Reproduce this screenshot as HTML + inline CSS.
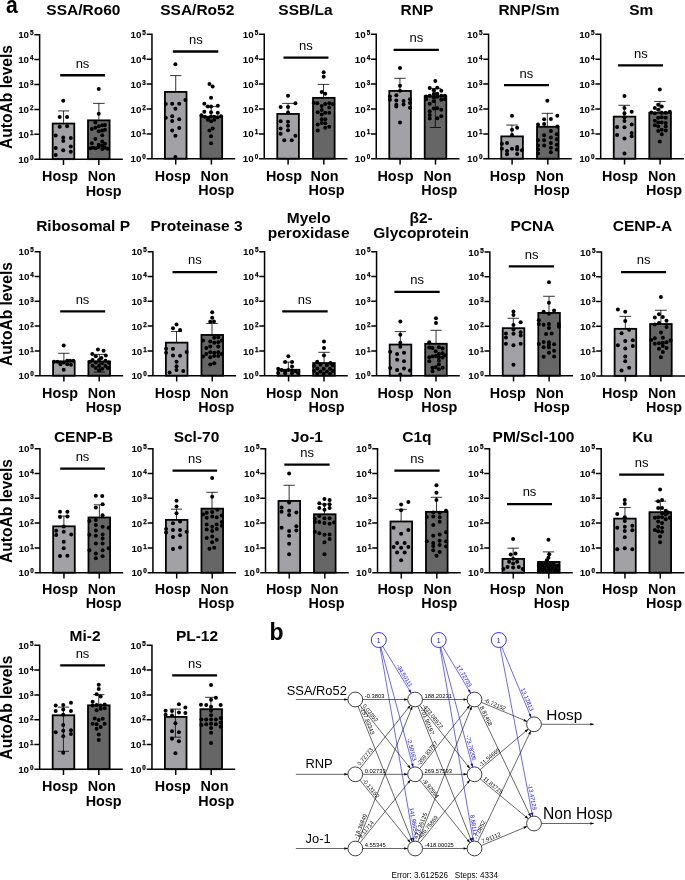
<!DOCTYPE html>
<html><head><meta charset="utf-8"><title>Figure</title>
<style>html,body{margin:0;padding:0;background:#fff}svg{display:block}</style>
</head><body>
<svg width="685" height="880" viewBox="0 0 685 880">
<rect width="685" height="880" fill="#fff"/>
<g font-family="Liberation Sans, Arial, sans-serif" fill="#000">
<text x="83.4" y="15.1" font-size="15.5" font-weight="bold" text-anchor="middle">SSA/Ro60</text>
<rect x="52.68" y="123.56" width="21.6" height="35.61" fill="#a2a2a6" stroke="#000" stroke-width="1.8"/>
<rect x="88.01" y="120.34" width="21.6" height="38.82" fill="#666666" stroke="#000" stroke-width="1.8"/>
<path d="M63.56 122.96V110.91M58.1 110.91H69.02" stroke="#000" stroke-width="0.8" fill="none"/>
<path d="M98.89 119.74V103.36M93.11 103.36H104.67" stroke="#000" stroke-width="0.8" fill="none"/>
<path d="M39.64 33.89V159.27H122.84M34.34 34.64H39.64M34.34 59.56H39.64M34.34 84.49H39.64M34.34 109.41H39.64M34.34 134.34H39.64M34.34 159.27H39.64M63.48 159.27V164.97M98.81 159.27V164.97" stroke="#000" stroke-width="1.5" fill="none"/>
<text x="29.04" y="38.24" font-size="9.8" font-weight="bold" text-anchor="end">10</text>
<text x="30.04" y="35.24" font-size="6.3" font-weight="bold" stroke="#000" stroke-width="0.25">5</text>
<text x="29.04" y="63.16" font-size="9.8" font-weight="bold" text-anchor="end">10</text>
<text x="30.04" y="60.16" font-size="6.3" font-weight="bold" stroke="#000" stroke-width="0.25">4</text>
<text x="29.04" y="88.09" font-size="9.8" font-weight="bold" text-anchor="end">10</text>
<text x="30.04" y="85.09" font-size="6.3" font-weight="bold" stroke="#000" stroke-width="0.25">3</text>
<text x="29.04" y="113.01" font-size="9.8" font-weight="bold" text-anchor="end">10</text>
<text x="30.04" y="110.01" font-size="6.3" font-weight="bold" stroke="#000" stroke-width="0.25">2</text>
<text x="29.04" y="137.94" font-size="9.8" font-weight="bold" text-anchor="end">10</text>
<text x="30.04" y="134.94" font-size="6.3" font-weight="bold" stroke="#000" stroke-width="0.25">1</text>
<text x="29.04" y="162.87" font-size="9.8" font-weight="bold" text-anchor="end">10</text>
<text x="30.04" y="159.87" font-size="6.3" font-weight="bold" stroke="#000" stroke-width="0.25">0</text>
<circle cx="63.24" cy="100.8" r="2.0"/><circle cx="59.71" cy="117.01" r="2.0"/><circle cx="67.09" cy="117.01" r="2.0"/><circle cx="59.71" cy="126.65" r="2.0"/><circle cx="67.09" cy="126.17" r="2.0"/><circle cx="55.69" cy="135.48" r="2.0"/><circle cx="63.24" cy="137.41" r="2.0"/><circle cx="70.79" cy="137.89" r="2.0"/><circle cx="63.24" cy="140.94" r="2.0"/><circle cx="55.69" cy="148.01" r="2.0"/><circle cx="70.79" cy="146.56" r="2.0"/><circle cx="63.24" cy="150.26" r="2.0"/><circle cx="70.79" cy="151.86" r="2.0"/><circle cx="55.69" cy="155.07" r="2.0"/><circle cx="98.73" cy="88.91" r="2.0"/><circle cx="98.73" cy="113.64" r="2.0"/><circle cx="95.36" cy="122.47" r="2.0"/><circle cx="91.82" cy="129.06" r="2.0"/><circle cx="95.36" cy="127.77" r="2.0"/><circle cx="98.73" cy="126.17" r="2.0"/><circle cx="102.26" cy="125.36" r="2.0"/><circle cx="104.99" cy="124.88" r="2.0"/><circle cx="98.73" cy="131.31" r="2.0"/><circle cx="102.26" cy="130.5" r="2.0"/><circle cx="104.99" cy="129.7" r="2.0"/><circle cx="102.26" cy="135.32" r="2.0"/><circle cx="95.36" cy="139.01" r="2.0"/><circle cx="102.26" cy="141.42" r="2.0"/><circle cx="91.82" cy="143.35" r="2.0"/><circle cx="104.99" cy="143.83" r="2.0"/><circle cx="98.73" cy="144.64" r="2.0"/><circle cx="102.26" cy="145.44" r="2.0"/><circle cx="90.22" cy="148.33" r="2.0"/><circle cx="93.11" cy="147.85" r="2.0"/><circle cx="95.84" cy="148.33" r="2.0"/><circle cx="98.73" cy="147.04" r="2.0"/><circle cx="102.26" cy="148.97" r="2.0"/><circle cx="104.99" cy="147.85" r="2.0"/><circle cx="107.88" cy="148.65" r="2.0"/>
<path d="M60.19 75.26H104.99" stroke="#000" stroke-width="2.3" fill="none"/>
<text x="82.51" y="68.04" font-size="13.0" text-anchor="middle">ns</text>
<text x="60.1" y="181.32" font-size="14.4" font-weight="bold" text-anchor="middle">Hosp</text>
<text x="101.75" y="181.32" font-size="14.4" font-weight="bold" text-anchor="middle">Non</text>
<text x="103.65" y="195.52" font-size="14.4" font-weight="bold" text-anchor="middle">Hosp</text>
<text x="197.3" y="15.1" font-size="15.5" font-weight="bold" text-anchor="middle">SSA/Ro52</text>
<rect x="164.92" y="91.92" width="21.6" height="66.76" fill="#a2a2a6" stroke="#000" stroke-width="1.8"/>
<rect x="200.57" y="116.81" width="21.6" height="41.87" fill="#666666" stroke="#000" stroke-width="1.8"/>
<path d="M175.72 91.32V75.58M170.1 75.58H181.34" stroke="#000" stroke-width="0.8" fill="none"/>
<path d="M211.21 116.21V106.58M205.43 106.58H216.99" stroke="#000" stroke-width="0.8" fill="none"/>
<path d="M151.96 33.56V158.78H235.16M146.66 34.31H151.96M146.66 59.21H151.96M146.66 84.1H151.96M146.66 109H151.96M146.66 133.89H151.96M146.66 158.78H151.96M175.72 158.78V164.48M211.37 158.78V164.48" stroke="#000" stroke-width="1.5" fill="none"/>
<text x="141.36" y="37.91" font-size="9.8" font-weight="bold" text-anchor="end">10</text>
<text x="142.36" y="34.91" font-size="6.3" font-weight="bold" stroke="#000" stroke-width="0.25">5</text>
<text x="141.36" y="62.81" font-size="9.8" font-weight="bold" text-anchor="end">10</text>
<text x="142.36" y="59.81" font-size="6.3" font-weight="bold" stroke="#000" stroke-width="0.25">4</text>
<text x="141.36" y="87.7" font-size="9.8" font-weight="bold" text-anchor="end">10</text>
<text x="142.36" y="84.7" font-size="6.3" font-weight="bold" stroke="#000" stroke-width="0.25">3</text>
<text x="141.36" y="112.6" font-size="9.8" font-weight="bold" text-anchor="end">10</text>
<text x="142.36" y="109.6" font-size="6.3" font-weight="bold" stroke="#000" stroke-width="0.25">2</text>
<text x="141.36" y="137.49" font-size="9.8" font-weight="bold" text-anchor="end">10</text>
<text x="142.36" y="134.49" font-size="6.3" font-weight="bold" stroke="#000" stroke-width="0.25">1</text>
<text x="141.36" y="162.38" font-size="9.8" font-weight="bold" text-anchor="end">10</text>
<text x="142.36" y="159.38" font-size="6.3" font-weight="bold" stroke="#000" stroke-width="0.25">0</text>
<circle cx="175.4" cy="64.18" r="2.0"/><circle cx="185.36" cy="99.99" r="2.0"/><circle cx="165.77" cy="104.01" r="2.0"/><circle cx="172.19" cy="103.69" r="2.0"/><circle cx="179.26" cy="103.69" r="2.0"/><circle cx="175.4" cy="108.82" r="2.0"/><circle cx="165.77" cy="117.66" r="2.0"/><circle cx="172.19" cy="116.21" r="2.0"/><circle cx="179.26" cy="119.26" r="2.0"/><circle cx="172.19" cy="121.03" r="2.0"/><circle cx="179.26" cy="128.09" r="2.0"/><circle cx="172.19" cy="130.5" r="2.0"/><circle cx="175.4" cy="135.8" r="2.0"/><circle cx="175.4" cy="157" r="2.0"/><circle cx="209.45" cy="84.09" r="2.0"/><circle cx="212.66" cy="86.5" r="2.0"/><circle cx="211.05" cy="97.74" r="2.0"/><circle cx="204.31" cy="103.69" r="2.0"/><circle cx="207.84" cy="106.58" r="2.0"/><circle cx="211.05" cy="106.58" r="2.0"/><circle cx="217.8" cy="105.77" r="2.0"/><circle cx="204.31" cy="111.72" r="2.0"/><circle cx="211.05" cy="112.2" r="2.0"/><circle cx="217.8" cy="112.84" r="2.0"/><circle cx="201.42" cy="115.25" r="2.0"/><circle cx="204.95" cy="116.85" r="2.0"/><circle cx="208.16" cy="117.82" r="2.0"/><circle cx="211.05" cy="116.53" r="2.0"/><circle cx="214.26" cy="116.85" r="2.0"/><circle cx="217.47" cy="117.34" r="2.0"/><circle cx="221.01" cy="116.21" r="2.0"/><circle cx="207.84" cy="119.74" r="2.0"/><circle cx="211.05" cy="121.35" r="2.0"/><circle cx="214.26" cy="119.74" r="2.0"/><circle cx="212.66" cy="128.58" r="2.0"/><circle cx="209.45" cy="130.5" r="2.0"/><circle cx="211.05" cy="136.28" r="2.0"/><circle cx="211.05" cy="143.35" r="2.0"/>
<path d="M172.83 51.5H218.28" stroke="#000" stroke-width="2.3" fill="none"/>
<text x="195.8" y="44.27" font-size="13.0" text-anchor="middle">ns</text>
<text x="172.75" y="180.83" font-size="14.4" font-weight="bold" text-anchor="middle">Hosp</text>
<text x="214.45" y="180.83" font-size="14.4" font-weight="bold" text-anchor="middle">Non</text>
<text x="216.35" y="195.03" font-size="14.4" font-weight="bold" text-anchor="middle">Hosp</text>
<text x="305.5" y="15.1" font-size="15.5" font-weight="bold" text-anchor="middle">SSB/La</text>
<rect x="277.29" y="113.92" width="21.6" height="44.76" fill="#a2a2a6" stroke="#000" stroke-width="1.8"/>
<rect x="313.02" y="97.86" width="21.6" height="60.82" fill="#666666" stroke="#000" stroke-width="1.8"/>
<path d="M288.09 113.32V103.36M282.23 103.36H293.95" stroke="#000" stroke-width="0.8" fill="none"/>
<path d="M323.5 97.26V84.42M317.72 84.42H329.28" stroke="#000" stroke-width="0.8" fill="none"/>
<path d="M264.24 33.56V158.78H347.44M258.94 34.31H264.24M258.94 59.21H264.24M258.94 84.1H264.24M258.94 109H264.24M258.94 133.89H264.24M258.94 158.78H264.24M288.09 158.78V164.48M323.82 158.78V164.48" stroke="#000" stroke-width="1.5" fill="none"/>
<text x="253.64" y="37.91" font-size="9.8" font-weight="bold" text-anchor="end">10</text>
<text x="254.64" y="34.91" font-size="6.3" font-weight="bold" stroke="#000" stroke-width="0.25">5</text>
<text x="253.64" y="62.81" font-size="9.8" font-weight="bold" text-anchor="end">10</text>
<text x="254.64" y="59.81" font-size="6.3" font-weight="bold" stroke="#000" stroke-width="0.25">4</text>
<text x="253.64" y="87.7" font-size="9.8" font-weight="bold" text-anchor="end">10</text>
<text x="254.64" y="84.7" font-size="6.3" font-weight="bold" stroke="#000" stroke-width="0.25">3</text>
<text x="253.64" y="112.6" font-size="9.8" font-weight="bold" text-anchor="end">10</text>
<text x="254.64" y="109.6" font-size="6.3" font-weight="bold" stroke="#000" stroke-width="0.25">2</text>
<text x="253.64" y="137.49" font-size="9.8" font-weight="bold" text-anchor="end">10</text>
<text x="254.64" y="134.49" font-size="6.3" font-weight="bold" stroke="#000" stroke-width="0.25">1</text>
<text x="253.64" y="162.38" font-size="9.8" font-weight="bold" text-anchor="end">10</text>
<text x="254.64" y="159.38" font-size="6.3" font-weight="bold" stroke="#000" stroke-width="0.25">0</text>
<circle cx="288.01" cy="95.66" r="2.0"/><circle cx="295.39" cy="103.2" r="2.0"/><circle cx="280.62" cy="106.9" r="2.0"/><circle cx="288.01" cy="106.9" r="2.0"/><circle cx="288.01" cy="112.52" r="2.0"/><circle cx="280.62" cy="121.35" r="2.0"/><circle cx="288.01" cy="121.67" r="2.0"/><circle cx="288.01" cy="125.69" r="2.0"/><circle cx="280.62" cy="128.58" r="2.0"/><circle cx="288.01" cy="130.18" r="2.0"/><circle cx="280.62" cy="133.72" r="2.0"/><circle cx="295.39" cy="135.8" r="2.0"/><circle cx="284.31" cy="140.3" r="2.0"/><circle cx="291.7" cy="140.3" r="2.0"/><circle cx="323.66" cy="72.37" r="2.0"/><circle cx="323.66" cy="76.87" r="2.0"/><circle cx="321.73" cy="92.12" r="2.0"/><circle cx="325.26" cy="93.73" r="2.0"/><circle cx="313.7" cy="102.88" r="2.0"/><circle cx="317.23" cy="103.2" r="2.0"/><circle cx="325.26" cy="104.01" r="2.0"/><circle cx="329.28" cy="103.2" r="2.0"/><circle cx="332.81" cy="104.01" r="2.0"/><circle cx="321.73" cy="106.09" r="2.0"/><circle cx="329.28" cy="107.38" r="2.0"/><circle cx="321.73" cy="110.11" r="2.0"/><circle cx="317.72" cy="112.2" r="2.0"/><circle cx="325.26" cy="112.84" r="2.0"/><circle cx="329.28" cy="112.84" r="2.0"/><circle cx="321.73" cy="114.45" r="2.0"/><circle cx="321.73" cy="119.26" r="2.0"/><circle cx="325.26" cy="119.26" r="2.0"/><circle cx="317.72" cy="124.56" r="2.0"/><circle cx="321.73" cy="122.96" r="2.0"/><circle cx="325.26" cy="123.28" r="2.0"/><circle cx="329.28" cy="126.65" r="2.0"/><circle cx="325.26" cy="127.77" r="2.0"/><circle cx="317.72" cy="130.5" r="2.0"/>
<path d="M283.51 57.6H328.47" stroke="#000" stroke-width="2.3" fill="none"/>
<text x="305.99" y="50.21" font-size="13.0" text-anchor="middle">ns</text>
<text x="283.95" y="180.83" font-size="14.4" font-weight="bold" text-anchor="middle">Hosp</text>
<text x="324.6" y="180.83" font-size="14.4" font-weight="bold" text-anchor="middle">Non</text>
<text x="326.5" y="195.03" font-size="14.4" font-weight="bold" text-anchor="middle">Hosp</text>
<text x="416.9" y="15.1" font-size="15.5" font-weight="bold" text-anchor="middle">RNP</text>
<rect x="389.29" y="90.96" width="21.6" height="67.73" fill="#a2a2a6" stroke="#000" stroke-width="1.8"/>
<rect x="424.7" y="96.26" width="21.6" height="62.43" fill="#666666" stroke="#000" stroke-width="1.8"/>
<path d="M399.93 90.36V78.31M394.23 78.31H405.63" stroke="#000" stroke-width="0.8" fill="none"/>
<path d="M435.34 95.66V88.43M429.72 88.43H440.96M435.34 95.66V127.45M429.72 127.45H440.96" stroke="#000" stroke-width="0.8" fill="none"/>
<path d="M376.24 33.56V158.78H459.44M370.94 34.31H376.24M370.94 59.21H376.24M370.94 84.1H376.24M370.94 109H376.24M370.94 133.89H376.24M370.94 158.78H376.24M400.09 158.78V164.48M435.5 158.78V164.48" stroke="#000" stroke-width="1.5" fill="none"/>
<text x="365.64" y="37.91" font-size="9.8" font-weight="bold" text-anchor="end">10</text>
<text x="366.64" y="34.91" font-size="6.3" font-weight="bold" stroke="#000" stroke-width="0.25">5</text>
<text x="365.64" y="62.81" font-size="9.8" font-weight="bold" text-anchor="end">10</text>
<text x="366.64" y="59.81" font-size="6.3" font-weight="bold" stroke="#000" stroke-width="0.25">4</text>
<text x="365.64" y="87.7" font-size="9.8" font-weight="bold" text-anchor="end">10</text>
<text x="366.64" y="84.7" font-size="6.3" font-weight="bold" stroke="#000" stroke-width="0.25">3</text>
<text x="365.64" y="112.6" font-size="9.8" font-weight="bold" text-anchor="end">10</text>
<text x="366.64" y="109.6" font-size="6.3" font-weight="bold" stroke="#000" stroke-width="0.25">2</text>
<text x="365.64" y="137.49" font-size="9.8" font-weight="bold" text-anchor="end">10</text>
<text x="366.64" y="134.49" font-size="6.3" font-weight="bold" stroke="#000" stroke-width="0.25">1</text>
<text x="365.64" y="162.38" font-size="9.8" font-weight="bold" text-anchor="end">10</text>
<text x="366.64" y="159.38" font-size="6.3" font-weight="bold" stroke="#000" stroke-width="0.25">0</text>
<circle cx="400.01" cy="67.88" r="2.0"/><circle cx="400.01" cy="85.7" r="2.0"/><circle cx="400.01" cy="90.84" r="2.0"/><circle cx="396.31" cy="95.34" r="2.0"/><circle cx="389.89" cy="96.46" r="2.0"/><circle cx="389.89" cy="99.67" r="2.0"/><circle cx="396.31" cy="100.47" r="2.0"/><circle cx="403.54" cy="100.96" r="2.0"/><circle cx="409.96" cy="99.19" r="2.0"/><circle cx="409.96" cy="102.88" r="2.0"/><circle cx="396.31" cy="104.81" r="2.0"/><circle cx="403.54" cy="104.49" r="2.0"/><circle cx="396.31" cy="106.42" r="2.0"/><circle cx="409.96" cy="107.7" r="2.0"/><circle cx="400.01" cy="122.47" r="2.0"/><circle cx="435.34" cy="81.04" r="2.0"/><circle cx="429.72" cy="88.11" r="2.0"/><circle cx="437.26" cy="87.63" r="2.0"/><circle cx="433.73" cy="90.36" r="2.0"/><circle cx="441.28" cy="90.84" r="2.0"/><circle cx="433.73" cy="94.05" r="2.0"/><circle cx="437.26" cy="93.73" r="2.0"/><circle cx="426.02" cy="96.46" r="2.0"/><circle cx="429.72" cy="95.66" r="2.0"/><circle cx="433.73" cy="97.26" r="2.0"/><circle cx="437.26" cy="96.78" r="2.0"/><circle cx="441.28" cy="95.66" r="2.0"/><circle cx="444.81" cy="95.66" r="2.0"/><circle cx="426.02" cy="99.19" r="2.0"/><circle cx="444.81" cy="99.19" r="2.0"/><circle cx="441.28" cy="99.67" r="2.0"/><circle cx="433.73" cy="101.28" r="2.0"/><circle cx="429.72" cy="103.69" r="2.0"/><circle cx="433.73" cy="108.5" r="2.0"/><circle cx="437.26" cy="108.18" r="2.0"/><circle cx="441.28" cy="109.63" r="2.0"/><circle cx="429.72" cy="111.23" r="2.0"/><circle cx="429.72" cy="114.93" r="2.0"/><circle cx="441.28" cy="116.21" r="2.0"/><circle cx="437.26" cy="118.14" r="2.0"/><circle cx="429.72" cy="118.62" r="2.0"/>
<path d="M393.58 49.89H438.87" stroke="#000" stroke-width="2.3" fill="none"/>
<text x="416.39" y="42.18" font-size="13.0" text-anchor="middle">ns</text>
<text x="395.45" y="180.83" font-size="14.4" font-weight="bold" text-anchor="middle">Hosp</text>
<text x="437.45" y="180.83" font-size="14.4" font-weight="bold" text-anchor="middle">Non</text>
<text x="439.35" y="195.03" font-size="14.4" font-weight="bold" text-anchor="middle">Hosp</text>
<text x="529" y="15.1" font-size="15.5" font-weight="bold" text-anchor="middle">RNP/Sm</text>
<rect x="501.29" y="136.4" width="21.6" height="22.28" fill="#a2a2a6" stroke="#000" stroke-width="1.8"/>
<rect x="537.02" y="126.77" width="21.6" height="31.92" fill="#666666" stroke="#000" stroke-width="1.8"/>
<path d="M511.93 135.8V125.04M506.23 125.04H517.63" stroke="#000" stroke-width="0.8" fill="none"/>
<path d="M547.34 126.17V113.32M541.72 113.32H552.96" stroke="#000" stroke-width="0.8" fill="none"/>
<path d="M488.56 33.56V158.78H571.76M483.26 34.31H488.56M483.26 59.21H488.56M483.26 84.1H488.56M483.26 109H488.56M483.26 133.89H488.56M483.26 158.78H488.56M512.09 158.78V164.48M547.82 158.78V164.48" stroke="#000" stroke-width="1.5" fill="none"/>
<text x="477.96" y="37.91" font-size="9.8" font-weight="bold" text-anchor="end">10</text>
<text x="478.96" y="34.91" font-size="6.3" font-weight="bold" stroke="#000" stroke-width="0.25">5</text>
<text x="477.96" y="62.81" font-size="9.8" font-weight="bold" text-anchor="end">10</text>
<text x="478.96" y="59.81" font-size="6.3" font-weight="bold" stroke="#000" stroke-width="0.25">4</text>
<text x="477.96" y="87.7" font-size="9.8" font-weight="bold" text-anchor="end">10</text>
<text x="478.96" y="84.7" font-size="6.3" font-weight="bold" stroke="#000" stroke-width="0.25">3</text>
<text x="477.96" y="112.6" font-size="9.8" font-weight="bold" text-anchor="end">10</text>
<text x="478.96" y="109.6" font-size="6.3" font-weight="bold" stroke="#000" stroke-width="0.25">2</text>
<text x="477.96" y="137.49" font-size="9.8" font-weight="bold" text-anchor="end">10</text>
<text x="478.96" y="134.49" font-size="6.3" font-weight="bold" stroke="#000" stroke-width="0.25">1</text>
<text x="477.96" y="162.38" font-size="9.8" font-weight="bold" text-anchor="end">10</text>
<text x="478.96" y="159.38" font-size="6.3" font-weight="bold" stroke="#000" stroke-width="0.25">0</text>
<circle cx="512.01" cy="115.73" r="2.0"/><circle cx="512.01" cy="129.7" r="2.0"/><circle cx="517.15" cy="127.77" r="2.0"/><circle cx="512.01" cy="135" r="2.0"/><circle cx="501.89" cy="143.83" r="2.0"/><circle cx="507.03" cy="143.03" r="2.0"/><circle cx="501.89" cy="148.65" r="2.0"/><circle cx="512.01" cy="148.65" r="2.0"/><circle cx="517.15" cy="147.04" r="2.0"/><circle cx="507.03" cy="151.06" r="2.0"/><circle cx="521.96" cy="150.26" r="2.0"/><circle cx="517.15" cy="149.45" r="2.0"/><circle cx="507.03" cy="154.27" r="2.0"/><circle cx="517.15" cy="153.95" r="2.0"/><circle cx="547.34" cy="100.8" r="2.0"/><circle cx="557.29" cy="115.73" r="2.0"/><circle cx="544.12" cy="119.26" r="2.0"/><circle cx="550.87" cy="118.94" r="2.0"/><circle cx="538.02" cy="124.56" r="2.0"/><circle cx="544.12" cy="124.08" r="2.0"/><circle cx="557.29" cy="126.49" r="2.0"/><circle cx="550.87" cy="130.99" r="2.0"/><circle cx="544.12" cy="135.32" r="2.0"/><circle cx="556.81" cy="134.2" r="2.0"/><circle cx="550.87" cy="137.41" r="2.0"/><circle cx="538.02" cy="140.14" r="2.0"/><circle cx="544.12" cy="140.14" r="2.0"/><circle cx="556.81" cy="139.34" r="2.0"/><circle cx="550.87" cy="143.03" r="2.0"/><circle cx="538.02" cy="145.44" r="2.0"/><circle cx="544.12" cy="145.44" r="2.0"/><circle cx="556.81" cy="144.64" r="2.0"/><circle cx="550.87" cy="147.85" r="2.0"/><circle cx="538.02" cy="149.45" r="2.0"/><circle cx="556.81" cy="149.45" r="2.0"/><circle cx="550.87" cy="152.34" r="2.0"/><circle cx="538.02" cy="153.47" r="2.0"/>
<path d="M503.98 85.22H548.94" stroke="#000" stroke-width="2.3" fill="none"/>
<text x="526.46" y="77.51" font-size="13.0" text-anchor="middle">ns</text>
<text x="507.75" y="180.83" font-size="14.4" font-weight="bold" text-anchor="middle">Hosp</text>
<text x="549.8" y="180.83" font-size="14.4" font-weight="bold" text-anchor="middle">Non</text>
<text x="551.7" y="195.03" font-size="14.4" font-weight="bold" text-anchor="middle">Hosp</text>
<text x="641.3" y="15.1" font-size="15.5" font-weight="bold" text-anchor="middle">Sm</text>
<rect x="613.74" y="116.65" width="21.6" height="42.03" fill="#a2a2a6" stroke="#000" stroke-width="1.8"/>
<rect x="649.31" y="112.8" width="21.6" height="45.89" fill="#666666" stroke="#000" stroke-width="1.8"/>
<path d="M624.22 116.05V105.29M618.36 105.29H630.08" stroke="#000" stroke-width="0.8" fill="none"/>
<path d="M659.95 112.2V101.44M654.17 101.44H665.73" stroke="#000" stroke-width="0.8" fill="none"/>
<path d="M600.69 33.56V158.78H683.89M595.39 34.31H600.69M595.39 59.21H600.69M595.39 84.1H600.69M595.39 109H600.69M595.39 133.89H600.69M595.39 158.78H600.69M624.54 158.78V164.48M660.11 158.78V164.48" stroke="#000" stroke-width="1.5" fill="none"/>
<text x="590.09" y="37.91" font-size="9.8" font-weight="bold" text-anchor="end">10</text>
<text x="591.09" y="34.91" font-size="6.3" font-weight="bold" stroke="#000" stroke-width="0.25">5</text>
<text x="590.09" y="62.81" font-size="9.8" font-weight="bold" text-anchor="end">10</text>
<text x="591.09" y="59.81" font-size="6.3" font-weight="bold" stroke="#000" stroke-width="0.25">4</text>
<text x="590.09" y="87.7" font-size="9.8" font-weight="bold" text-anchor="end">10</text>
<text x="591.09" y="84.7" font-size="6.3" font-weight="bold" stroke="#000" stroke-width="0.25">3</text>
<text x="590.09" y="112.6" font-size="9.8" font-weight="bold" text-anchor="end">10</text>
<text x="591.09" y="109.6" font-size="6.3" font-weight="bold" stroke="#000" stroke-width="0.25">2</text>
<text x="590.09" y="137.49" font-size="9.8" font-weight="bold" text-anchor="end">10</text>
<text x="591.09" y="134.49" font-size="6.3" font-weight="bold" stroke="#000" stroke-width="0.25">1</text>
<text x="590.09" y="162.38" font-size="9.8" font-weight="bold" text-anchor="end">10</text>
<text x="591.09" y="159.38" font-size="6.3" font-weight="bold" stroke="#000" stroke-width="0.25">0</text>
<circle cx="624.46" cy="95.98" r="2.0"/><circle cx="624.46" cy="108.02" r="2.0"/><circle cx="631.69" cy="111.72" r="2.0"/><circle cx="624.46" cy="113.32" r="2.0"/><circle cx="624.46" cy="117.34" r="2.0"/><circle cx="624.46" cy="121.03" r="2.0"/><circle cx="631.69" cy="124.56" r="2.0"/><circle cx="617.07" cy="126.97" r="2.0"/><circle cx="624.46" cy="127.29" r="2.0"/><circle cx="631.69" cy="132.91" r="2.0"/><circle cx="617.07" cy="135" r="2.0"/><circle cx="631.69" cy="136.28" r="2.0"/><circle cx="624.46" cy="138.53" r="2.0"/><circle cx="624.46" cy="153.47" r="2.0"/><circle cx="659.79" cy="89.55" r="2.0"/><circle cx="658.18" cy="104.81" r="2.0"/><circle cx="661.72" cy="106.42" r="2.0"/><circle cx="654.81" cy="108.02" r="2.0"/><circle cx="658.18" cy="109.79" r="2.0"/><circle cx="669.74" cy="111.72" r="2.0"/><circle cx="651.28" cy="112.52" r="2.0"/><circle cx="654.81" cy="113.32" r="2.0"/><circle cx="661.72" cy="112.84" r="2.0"/><circle cx="665.73" cy="112.84" r="2.0"/><circle cx="658.18" cy="117.66" r="2.0"/><circle cx="661.72" cy="117.34" r="2.0"/><circle cx="665.73" cy="117.66" r="2.0"/><circle cx="654.81" cy="120.87" r="2.0"/><circle cx="658.18" cy="122.47" r="2.0"/><circle cx="661.72" cy="122.47" r="2.0"/><circle cx="665.73" cy="122.96" r="2.0"/><circle cx="654.81" cy="125.36" r="2.0"/><circle cx="658.18" cy="126.49" r="2.0"/><circle cx="665.73" cy="126.49" r="2.0"/><circle cx="661.72" cy="129.86" r="2.0"/><circle cx="658.18" cy="130.99" r="2.0"/><circle cx="665.73" cy="130.5" r="2.0"/><circle cx="661.72" cy="134.2" r="2.0"/><circle cx="659.79" cy="141.42" r="2.0"/>
<path d="M618.04 65.47H663" stroke="#000" stroke-width="2.3" fill="none"/>
<text x="640.84" y="57.92" font-size="13.0" text-anchor="middle">ns</text>
<text x="620.1" y="180.83" font-size="14.4" font-weight="bold" text-anchor="middle">Hosp</text>
<text x="662.1" y="180.83" font-size="14.4" font-weight="bold" text-anchor="middle">Non</text>
<text x="664" y="195.03" font-size="14.4" font-weight="bold" text-anchor="middle">Hosp</text>
<text x="83.1" y="231" font-size="15.5" font-weight="bold" text-anchor="middle">Ribosomal P</text>
<rect x="53.08" y="361.43" width="21.6" height="14.22" fill="#a2a2a6" stroke="#000" stroke-width="1.8"/>
<rect x="88.41" y="361.43" width="21.6" height="14.22" fill="#666666" stroke="#000" stroke-width="1.8"/>
<path d="M63.88 360.83V353.28M58.1 353.28H69.66" stroke="#000" stroke-width="0.8" fill="none"/>
<path d="M99.37 360.83V354.41M93.75 354.41H104.99M99.37 360.83V372.07M93.75 372.07H104.99" stroke="#000" stroke-width="0.8" fill="none"/>
<path d="M39.96 250.89V375.76H123.16M34.66 251.64H39.96M34.66 276.46H39.96M34.66 301.28H39.96M34.66 326.11H39.96M34.66 350.93H39.96M34.66 375.76H39.96M63.88 375.76V381.46M99.21 375.76V381.46" stroke="#000" stroke-width="1.5" fill="none"/>
<text x="29.36" y="255.24" font-size="9.8" font-weight="bold" text-anchor="end">10</text>
<text x="30.36" y="252.24" font-size="6.3" font-weight="bold" stroke="#000" stroke-width="0.25">5</text>
<text x="29.36" y="280.06" font-size="9.8" font-weight="bold" text-anchor="end">10</text>
<text x="30.36" y="277.06" font-size="6.3" font-weight="bold" stroke="#000" stroke-width="0.25">4</text>
<text x="29.36" y="304.88" font-size="9.8" font-weight="bold" text-anchor="end">10</text>
<text x="30.36" y="301.88" font-size="6.3" font-weight="bold" stroke="#000" stroke-width="0.25">3</text>
<text x="29.36" y="329.71" font-size="9.8" font-weight="bold" text-anchor="end">10</text>
<text x="30.36" y="326.71" font-size="6.3" font-weight="bold" stroke="#000" stroke-width="0.25">2</text>
<text x="29.36" y="354.53" font-size="9.8" font-weight="bold" text-anchor="end">10</text>
<text x="30.36" y="351.53" font-size="6.3" font-weight="bold" stroke="#000" stroke-width="0.25">1</text>
<text x="29.36" y="379.36" font-size="9.8" font-weight="bold" text-anchor="end">10</text>
<text x="30.36" y="376.36" font-size="6.3" font-weight="bold" stroke="#000" stroke-width="0.25">0</text>
<circle cx="63.72" cy="345.58" r="2.0"/><circle cx="54.09" cy="361.64" r="2.0"/><circle cx="57.3" cy="361.64" r="2.0"/><circle cx="60.51" cy="362.44" r="2.0"/><circle cx="63.72" cy="362.44" r="2.0"/><circle cx="67.26" cy="360.83" r="2.0"/><circle cx="70.15" cy="360.83" r="2.0"/><circle cx="73.36" cy="360.83" r="2.0"/><circle cx="60.51" cy="364.36" r="2.0"/><circle cx="67.26" cy="364.36" r="2.0"/><circle cx="70.95" cy="364.85" r="2.0"/><circle cx="63.72" cy="369.66" r="2.0"/><circle cx="97.93" cy="349.59" r="2.0"/><circle cx="103.55" cy="350.72" r="2.0"/><circle cx="92.31" cy="353.93" r="2.0"/><circle cx="105.8" cy="355.53" r="2.0"/><circle cx="95.84" cy="356.34" r="2.0"/><circle cx="101.46" cy="357.94" r="2.0"/><circle cx="92.63" cy="360.03" r="2.0"/><circle cx="99.05" cy="360.03" r="2.0"/><circle cx="105.47" cy="360.83" r="2.0"/><circle cx="89.74" cy="361.64" r="2.0"/><circle cx="95.84" cy="362.44" r="2.0"/><circle cx="102.26" cy="363.24" r="2.0"/><circle cx="108.69" cy="362.44" r="2.0"/><circle cx="92.63" cy="365.65" r="2.0"/><circle cx="99.05" cy="365.65" r="2.0"/><circle cx="105.47" cy="365.97" r="2.0"/><circle cx="95.84" cy="368.06" r="2.0"/><circle cx="102.26" cy="368.86" r="2.0"/><circle cx="107.88" cy="368.06" r="2.0"/><circle cx="99.05" cy="370.47" r="2.0"/>
<path d="M60.19 311.37H105.15" stroke="#000" stroke-width="2.3" fill="none"/>
<text x="82.51" y="303.82" font-size="13.0" text-anchor="middle">ns</text>
<text x="60.1" y="397.61" font-size="14.4" font-weight="bold" text-anchor="middle">Hosp</text>
<text x="101.75" y="397.61" font-size="14.4" font-weight="bold" text-anchor="middle">Non</text>
<text x="103.65" y="411.81" font-size="14.4" font-weight="bold" text-anchor="middle">Hosp</text>
<text x="196.5" y="231" font-size="15.5" font-weight="bold" text-anchor="middle">Proteinase 3</text>
<rect x="165.89" y="342.64" width="21.6" height="33.01" fill="#a2a2a6" stroke="#000" stroke-width="1.8"/>
<rect x="201.46" y="334.94" width="21.6" height="40.72" fill="#666666" stroke="#000" stroke-width="1.8"/>
<path d="M176.53 342.04V331.45M170.91 331.45H182.15" stroke="#000" stroke-width="0.8" fill="none"/>
<path d="M212.01 334.34V323.42M206.23 323.42H217.8" stroke="#000" stroke-width="0.8" fill="none"/>
<path d="M152.92 250.89V375.76H236.12M147.62 251.64H152.92M147.62 276.46H152.92M147.62 301.28H152.92M147.62 326.11H152.92M147.62 350.93H152.92M147.62 375.76H152.92M176.69 375.76V381.46M212.26 375.76V381.46" stroke="#000" stroke-width="1.5" fill="none"/>
<text x="142.32" y="255.24" font-size="9.8" font-weight="bold" text-anchor="end">10</text>
<text x="143.32" y="252.24" font-size="6.3" font-weight="bold" stroke="#000" stroke-width="0.25">5</text>
<text x="142.32" y="280.06" font-size="9.8" font-weight="bold" text-anchor="end">10</text>
<text x="143.32" y="277.06" font-size="6.3" font-weight="bold" stroke="#000" stroke-width="0.25">4</text>
<text x="142.32" y="304.88" font-size="9.8" font-weight="bold" text-anchor="end">10</text>
<text x="143.32" y="301.88" font-size="6.3" font-weight="bold" stroke="#000" stroke-width="0.25">3</text>
<text x="142.32" y="329.71" font-size="9.8" font-weight="bold" text-anchor="end">10</text>
<text x="143.32" y="326.71" font-size="6.3" font-weight="bold" stroke="#000" stroke-width="0.25">2</text>
<text x="142.32" y="354.53" font-size="9.8" font-weight="bold" text-anchor="end">10</text>
<text x="143.32" y="351.53" font-size="6.3" font-weight="bold" stroke="#000" stroke-width="0.25">1</text>
<text x="142.32" y="379.36" font-size="9.8" font-weight="bold" text-anchor="end">10</text>
<text x="143.32" y="376.36" font-size="6.3" font-weight="bold" stroke="#000" stroke-width="0.25">0</text>
<circle cx="176.53" cy="324.38" r="2.0"/><circle cx="172.99" cy="328.23" r="2.0"/><circle cx="180.06" cy="330" r="2.0"/><circle cx="166.09" cy="348.79" r="2.0"/><circle cx="172.99" cy="348.79" r="2.0"/><circle cx="166.09" cy="352.8" r="2.0"/><circle cx="186.64" cy="352" r="2.0"/><circle cx="172.99" cy="355.53" r="2.0"/><circle cx="180.06" cy="355.69" r="2.0"/><circle cx="176.53" cy="361.64" r="2.0"/><circle cx="176.53" cy="366.13" r="2.0"/><circle cx="176.53" cy="369.99" r="2.0"/><circle cx="169.62" cy="372.55" r="2.0"/><circle cx="183.27" cy="370.95" r="2.0"/><circle cx="212.18" cy="312.34" r="2.0"/><circle cx="212.18" cy="317.8" r="2.0"/><circle cx="210.25" cy="321.81" r="2.0"/><circle cx="213.94" cy="321.49" r="2.0"/><circle cx="214.26" cy="337.87" r="2.0"/><circle cx="218.28" cy="337.23" r="2.0"/><circle cx="203.02" cy="340.44" r="2.0"/><circle cx="210.25" cy="341.56" r="2.0"/><circle cx="214.26" cy="342.69" r="2.0"/><circle cx="218.28" cy="342.36" r="2.0"/><circle cx="221.81" cy="340.44" r="2.0"/><circle cx="210.25" cy="346.38" r="2.0"/><circle cx="218.28" cy="346.38" r="2.0"/><circle cx="206.23" cy="347.99" r="2.0"/><circle cx="214.26" cy="352.8" r="2.0"/><circle cx="206.23" cy="353.93" r="2.0"/><circle cx="210.25" cy="352.32" r="2.0"/><circle cx="218.28" cy="352.32" r="2.0"/><circle cx="221.81" cy="353.93" r="2.0"/><circle cx="203.02" cy="356.5" r="2.0"/><circle cx="214.26" cy="356.01" r="2.0"/><circle cx="210.25" cy="357.14" r="2.0"/><circle cx="218.28" cy="356.01" r="2.0"/><circle cx="210.25" cy="364.53" r="2.0"/><circle cx="214.26" cy="363.24" r="2.0"/>
<path d="M172.51 272.03H217.15" stroke="#000" stroke-width="2.3" fill="none"/>
<text x="194.99" y="264.48" font-size="13.0" text-anchor="middle">ns</text>
<text x="172.75" y="397.61" font-size="14.4" font-weight="bold" text-anchor="middle">Hosp</text>
<text x="214.45" y="397.61" font-size="14.4" font-weight="bold" text-anchor="middle">Non</text>
<text x="216.35" y="411.81" font-size="14.4" font-weight="bold" text-anchor="middle">Hosp</text>
<text x="308.7" y="223.3" font-size="15.5" font-weight="bold" text-anchor="middle">Myelo</text>
<text x="308.7" y="238.3" font-size="15.5" font-weight="bold" text-anchor="middle">peroxidase</text>
<rect x="277.77" y="369.78" width="21.6" height="5.87" fill="#a2a2a6" stroke="#000" stroke-width="1.8"/>
<rect x="313.18" y="363.04" width="21.6" height="12.62" fill="#666666" stroke="#000" stroke-width="1.8"/>
<path d="M288.33 369.18V362.12M282.71 362.12H293.95" stroke="#000" stroke-width="0.8" fill="none"/>
<path d="M324.06 362.44V352.32M318.36 352.32H329.76" stroke="#000" stroke-width="0.8" fill="none"/>
<path d="M264.56 250.89V375.76H347.76M259.26 251.64H264.56M259.26 276.46H264.56M259.26 301.28H264.56M259.26 326.11H264.56M259.26 350.93H264.56M259.26 375.76H264.56M288.57 375.76V381.46M323.98 375.76V381.46" stroke="#000" stroke-width="1.5" fill="none"/>
<text x="253.96" y="255.24" font-size="9.8" font-weight="bold" text-anchor="end">10</text>
<text x="254.96" y="252.24" font-size="6.3" font-weight="bold" stroke="#000" stroke-width="0.25">5</text>
<text x="253.96" y="280.06" font-size="9.8" font-weight="bold" text-anchor="end">10</text>
<text x="254.96" y="277.06" font-size="6.3" font-weight="bold" stroke="#000" stroke-width="0.25">4</text>
<text x="253.96" y="304.88" font-size="9.8" font-weight="bold" text-anchor="end">10</text>
<text x="254.96" y="301.88" font-size="6.3" font-weight="bold" stroke="#000" stroke-width="0.25">3</text>
<text x="253.96" y="329.71" font-size="9.8" font-weight="bold" text-anchor="end">10</text>
<text x="254.96" y="326.71" font-size="6.3" font-weight="bold" stroke="#000" stroke-width="0.25">2</text>
<text x="253.96" y="354.53" font-size="9.8" font-weight="bold" text-anchor="end">10</text>
<text x="254.96" y="351.53" font-size="6.3" font-weight="bold" stroke="#000" stroke-width="0.25">1</text>
<text x="253.96" y="379.36" font-size="9.8" font-weight="bold" text-anchor="end">10</text>
<text x="254.96" y="376.36" font-size="6.3" font-weight="bold" stroke="#000" stroke-width="0.25">0</text>
<circle cx="288.33" cy="356.34" r="2.0"/><circle cx="285.12" cy="361.96" r="2.0"/><circle cx="292.02" cy="361.96" r="2.0"/><circle cx="292.02" cy="366.45" r="2.0"/><circle cx="278.21" cy="368.86" r="2.0"/><circle cx="281.58" cy="369.99" r="2.0"/><circle cx="285.12" cy="371.27" r="2.0"/><circle cx="288.33" cy="369.99" r="2.0"/><circle cx="292.02" cy="370.47" r="2.0"/><circle cx="295.55" cy="371.27" r="2.0"/><circle cx="278.21" cy="372.88" r="2.0"/><circle cx="285.12" cy="373.36" r="2.0"/><circle cx="292.02" cy="373.36" r="2.0"/><circle cx="297.96" cy="372.88" r="2.0"/><circle cx="323.98" cy="341.56" r="2.0"/><circle cx="323.98" cy="347.99" r="2.0"/><circle cx="323.98" cy="355.53" r="2.0"/><circle cx="317.23" cy="361.64" r="2.0"/><circle cx="330.56" cy="362.92" r="2.0"/><circle cx="314.02" cy="365.65" r="2.0"/><circle cx="320.45" cy="364.85" r="2.0"/><circle cx="326.87" cy="365.33" r="2.0"/><circle cx="332.81" cy="365.33" r="2.0"/><circle cx="317.23" cy="368.38" r="2.0"/><circle cx="323.66" cy="368.86" r="2.0"/><circle cx="330.08" cy="368.86" r="2.0"/><circle cx="314.02" cy="370.95" r="2.0"/><circle cx="320.45" cy="371.59" r="2.0"/><circle cx="326.87" cy="371.59" r="2.0"/><circle cx="332.81" cy="370.95" r="2.0"/><circle cx="317.23" cy="373.68" r="2.0"/><circle cx="323.66" cy="373.68" r="2.0"/><circle cx="330.08" cy="373.68" r="2.0"/>
<path d="M282.23 311.37H327.67" stroke="#000" stroke-width="2.3" fill="none"/>
<text x="304.71" y="303.82" font-size="13.0" text-anchor="middle">ns</text>
<text x="283.95" y="397.61" font-size="14.4" font-weight="bold" text-anchor="middle">Hosp</text>
<text x="324.6" y="397.61" font-size="14.4" font-weight="bold" text-anchor="middle">Non</text>
<text x="326.5" y="411.81" font-size="14.4" font-weight="bold" text-anchor="middle">Hosp</text>
<text x="421.1" y="223.3" font-size="15.5" font-weight="bold" text-anchor="middle">β2-</text>
<text x="421.1" y="238.3" font-size="15.5" font-weight="bold" text-anchor="middle">Glycoprotein</text>
<rect x="389.69" y="344.57" width="21.6" height="31.09" fill="#a2a2a6" stroke="#000" stroke-width="1.8"/>
<rect x="425.18" y="343.77" width="21.6" height="31.89" fill="#666666" stroke="#000" stroke-width="1.8"/>
<path d="M400.33 343.97V331.61M394.71 331.61H405.95" stroke="#000" stroke-width="0.8" fill="none"/>
<path d="M436.06 343.17V330.32M430.36 330.32H441.76" stroke="#000" stroke-width="0.8" fill="none"/>
<path d="M376.56 250.89V375.76H459.76M371.26 251.64H376.56M371.26 276.46H376.56M371.26 301.28H376.56M371.26 326.11H376.56M371.26 350.93H376.56M371.26 375.76H376.56M400.49 375.76V381.46M435.98 375.76V381.46" stroke="#000" stroke-width="1.5" fill="none"/>
<text x="365.96" y="255.24" font-size="9.8" font-weight="bold" text-anchor="end">10</text>
<text x="366.96" y="252.24" font-size="6.3" font-weight="bold" stroke="#000" stroke-width="0.25">5</text>
<text x="365.96" y="280.06" font-size="9.8" font-weight="bold" text-anchor="end">10</text>
<text x="366.96" y="277.06" font-size="6.3" font-weight="bold" stroke="#000" stroke-width="0.25">4</text>
<text x="365.96" y="304.88" font-size="9.8" font-weight="bold" text-anchor="end">10</text>
<text x="366.96" y="301.88" font-size="6.3" font-weight="bold" stroke="#000" stroke-width="0.25">3</text>
<text x="365.96" y="329.71" font-size="9.8" font-weight="bold" text-anchor="end">10</text>
<text x="366.96" y="326.71" font-size="6.3" font-weight="bold" stroke="#000" stroke-width="0.25">2</text>
<text x="365.96" y="354.53" font-size="9.8" font-weight="bold" text-anchor="end">10</text>
<text x="366.96" y="351.53" font-size="6.3" font-weight="bold" stroke="#000" stroke-width="0.25">1</text>
<text x="365.96" y="379.36" font-size="9.8" font-weight="bold" text-anchor="end">10</text>
<text x="366.96" y="376.36" font-size="6.3" font-weight="bold" stroke="#000" stroke-width="0.25">0</text>
<circle cx="400.33" cy="321.49" r="2.0"/><circle cx="400.33" cy="334.82" r="2.0"/><circle cx="400.33" cy="342.69" r="2.0"/><circle cx="400.33" cy="346.86" r="2.0"/><circle cx="390.21" cy="351.68" r="2.0"/><circle cx="397.12" cy="353.93" r="2.0"/><circle cx="404.02" cy="352.8" r="2.0"/><circle cx="397.12" cy="359.71" r="2.0"/><circle cx="404.02" cy="361.31" r="2.0"/><circle cx="390.21" cy="368.06" r="2.0"/><circle cx="397.12" cy="369.99" r="2.0"/><circle cx="404.02" cy="368.38" r="2.0"/><circle cx="409.96" cy="370.47" r="2.0"/><circle cx="400.33" cy="374.48" r="2.0"/><circle cx="435.98" cy="318.28" r="2.0"/><circle cx="435.98" cy="323.09" r="2.0"/><circle cx="429.23" cy="342.36" r="2.0"/><circle cx="429.23" cy="347.5" r="2.0"/><circle cx="432.45" cy="347.99" r="2.0"/><circle cx="438.87" cy="347.18" r="2.0"/><circle cx="442.56" cy="348.47" r="2.0"/><circle cx="435.66" cy="351.2" r="2.0"/><circle cx="438.87" cy="353.93" r="2.0"/><circle cx="442.56" cy="353.28" r="2.0"/><circle cx="444.81" cy="355.21" r="2.0"/><circle cx="429.23" cy="357.14" r="2.0"/><circle cx="432.45" cy="356.5" r="2.0"/><circle cx="435.66" cy="356.01" r="2.0"/><circle cx="438.87" cy="357.14" r="2.0"/><circle cx="442.56" cy="357.62" r="2.0"/><circle cx="429.23" cy="361.31" r="2.0"/><circle cx="438.87" cy="360.83" r="2.0"/><circle cx="438.87" cy="364.53" r="2.0"/><circle cx="432.45" cy="367.74" r="2.0"/><circle cx="435.66" cy="367.26" r="2.0"/><circle cx="442.56" cy="367.74" r="2.0"/><circle cx="438.87" cy="369.34" r="2.0"/><circle cx="432.45" cy="371.27" r="2.0"/>
<path d="M394.39 291.78H439.67" stroke="#000" stroke-width="2.3" fill="none"/>
<text x="417.19" y="284.07" font-size="13.0" text-anchor="middle">ns</text>
<text x="395.45" y="397.61" font-size="14.4" font-weight="bold" text-anchor="middle">Hosp</text>
<text x="437.45" y="397.61" font-size="14.4" font-weight="bold" text-anchor="middle">Non</text>
<text x="439.35" y="411.81" font-size="14.4" font-weight="bold" text-anchor="middle">Hosp</text>
<text x="532.4" y="231" font-size="15.5" font-weight="bold" text-anchor="middle">PCNA</text>
<rect x="502.73" y="328.19" width="21.6" height="47.46" fill="#a2a2a6" stroke="#000" stroke-width="1.8"/>
<rect x="538.3" y="312.94" width="21.6" height="62.72" fill="#666666" stroke="#000" stroke-width="1.8"/>
<path d="M513.29 327.59V318.28M507.51 318.28H519.07" stroke="#000" stroke-width="0.8" fill="none"/>
<path d="M549.02 312.34V296.28M543.16 296.28H554.88" stroke="#000" stroke-width="0.8" fill="none"/>
<path d="M489.85 251.21V375.76H573.05M484.55 251.96H489.85M484.55 276.72H489.85M484.55 301.48H489.85M484.55 326.24H489.85M484.55 351H489.85M484.55 375.76H489.85M513.53 375.76V381.46M549.1 375.76V381.46" stroke="#000" stroke-width="1.5" fill="none"/>
<text x="479.25" y="255.56" font-size="9.8" font-weight="bold" text-anchor="end">10</text>
<text x="480.25" y="252.56" font-size="6.3" font-weight="bold" stroke="#000" stroke-width="0.25">5</text>
<text x="479.25" y="280.32" font-size="9.8" font-weight="bold" text-anchor="end">10</text>
<text x="480.25" y="277.32" font-size="6.3" font-weight="bold" stroke="#000" stroke-width="0.25">4</text>
<text x="479.25" y="305.08" font-size="9.8" font-weight="bold" text-anchor="end">10</text>
<text x="480.25" y="302.08" font-size="6.3" font-weight="bold" stroke="#000" stroke-width="0.25">3</text>
<text x="479.25" y="329.84" font-size="9.8" font-weight="bold" text-anchor="end">10</text>
<text x="480.25" y="326.84" font-size="6.3" font-weight="bold" stroke="#000" stroke-width="0.25">2</text>
<text x="479.25" y="354.6" font-size="9.8" font-weight="bold" text-anchor="end">10</text>
<text x="480.25" y="351.6" font-size="6.3" font-weight="bold" stroke="#000" stroke-width="0.25">1</text>
<text x="479.25" y="379.36" font-size="9.8" font-weight="bold" text-anchor="end">10</text>
<text x="480.25" y="376.36" font-size="6.3" font-weight="bold" stroke="#000" stroke-width="0.25">0</text>
<circle cx="513.45" cy="311.53" r="2.0"/><circle cx="513.45" cy="315.07" r="2.0"/><circle cx="520.68" cy="322.29" r="2.0"/><circle cx="513.45" cy="325.02" r="2.0"/><circle cx="513.45" cy="329.52" r="2.0"/><circle cx="505.91" cy="333.53" r="2.0"/><circle cx="513.45" cy="333.85" r="2.0"/><circle cx="520.68" cy="332.25" r="2.0"/><circle cx="520.68" cy="335.62" r="2.0"/><circle cx="505.91" cy="337.55" r="2.0"/><circle cx="505.91" cy="343.65" r="2.0"/><circle cx="513.45" cy="345.26" r="2.0"/><circle cx="520.68" cy="343.65" r="2.0"/><circle cx="513.45" cy="364.85" r="2.0"/><circle cx="548.94" cy="282.15" r="2.0"/><circle cx="548.94" cy="302.7" r="2.0"/><circle cx="554.08" cy="310.57" r="2.0"/><circle cx="543.64" cy="311.85" r="2.0"/><circle cx="548.94" cy="313.78" r="2.0"/><circle cx="538.82" cy="320.2" r="2.0"/><circle cx="538.82" cy="323.9" r="2.0"/><circle cx="543.64" cy="324.7" r="2.0"/><circle cx="548.94" cy="323.9" r="2.0"/><circle cx="558.9" cy="323.9" r="2.0"/><circle cx="548.94" cy="327.91" r="2.0"/><circle cx="558.9" cy="326.63" r="2.0"/><circle cx="546.05" cy="334.01" r="2.0"/><circle cx="551.67" cy="333.53" r="2.0"/><circle cx="543.64" cy="342.04" r="2.0"/><circle cx="548.94" cy="342.36" r="2.0"/><circle cx="538.82" cy="343.97" r="2.0"/><circle cx="548.94" cy="344.77" r="2.0"/><circle cx="554.08" cy="344.29" r="2.0"/><circle cx="543.64" cy="347.18" r="2.0"/><circle cx="548.94" cy="347.5" r="2.0"/><circle cx="554.08" cy="350.72" r="2.0"/><circle cx="548.94" cy="352.8" r="2.0"/><circle cx="543.64" cy="356.82" r="2.0"/><circle cx="554.08" cy="356.5" r="2.0"/>
<path d="M508.8 266.41H554.08" stroke="#000" stroke-width="2.3" fill="none"/>
<text x="531.6" y="258.54" font-size="13.0" text-anchor="middle">ns</text>
<text x="507.75" y="397.61" font-size="14.4" font-weight="bold" text-anchor="middle">Hosp</text>
<text x="549.8" y="397.61" font-size="14.4" font-weight="bold" text-anchor="middle">Non</text>
<text x="551.7" y="411.81" font-size="14.4" font-weight="bold" text-anchor="middle">Hosp</text>
<text x="642.4" y="231" font-size="15.5" font-weight="bold" text-anchor="middle">CENP-A</text>
<rect x="614.62" y="328.83" width="21.6" height="46.98" fill="#a2a2a6" stroke="#000" stroke-width="1.8"/>
<rect x="650.11" y="324.02" width="21.6" height="51.8" fill="#666666" stroke="#000" stroke-width="1.8"/>
<path d="M625.34 328.23V316.35M619.48 316.35H631.2" stroke="#000" stroke-width="0.8" fill="none"/>
<path d="M660.91 323.42V310.25M654.97 310.25H666.85" stroke="#000" stroke-width="0.8" fill="none"/>
<path d="M601.5 251.21V375.92H685M596.2 251.96H601.5M596.2 276.75H601.5M596.2 301.54H601.5M596.2 326.33H601.5M596.2 351.12H601.5M596.2 375.92H601.5M625.42 375.92V381.62M660.91 375.92V381.62" stroke="#000" stroke-width="1.5" fill="none"/>
<text x="590.9" y="255.56" font-size="9.8" font-weight="bold" text-anchor="end">10</text>
<text x="591.9" y="252.56" font-size="6.3" font-weight="bold" stroke="#000" stroke-width="0.25">5</text>
<text x="590.9" y="280.35" font-size="9.8" font-weight="bold" text-anchor="end">10</text>
<text x="591.9" y="277.35" font-size="6.3" font-weight="bold" stroke="#000" stroke-width="0.25">4</text>
<text x="590.9" y="305.14" font-size="9.8" font-weight="bold" text-anchor="end">10</text>
<text x="591.9" y="302.14" font-size="6.3" font-weight="bold" stroke="#000" stroke-width="0.25">3</text>
<text x="590.9" y="329.93" font-size="9.8" font-weight="bold" text-anchor="end">10</text>
<text x="591.9" y="326.93" font-size="6.3" font-weight="bold" stroke="#000" stroke-width="0.25">2</text>
<text x="590.9" y="354.72" font-size="9.8" font-weight="bold" text-anchor="end">10</text>
<text x="591.9" y="351.72" font-size="6.3" font-weight="bold" stroke="#000" stroke-width="0.25">1</text>
<text x="590.9" y="379.52" font-size="9.8" font-weight="bold" text-anchor="end">10</text>
<text x="591.9" y="376.52" font-size="6.3" font-weight="bold" stroke="#000" stroke-width="0.25">0</text>
<circle cx="617.88" cy="309.45" r="2.0"/><circle cx="625.26" cy="311.85" r="2.0"/><circle cx="625.26" cy="321.01" r="2.0"/><circle cx="629.12" cy="329.84" r="2.0"/><circle cx="621.57" cy="333.21" r="2.0"/><circle cx="625.26" cy="341.08" r="2.0"/><circle cx="632.81" cy="340.28" r="2.0"/><circle cx="617.88" cy="345.26" r="2.0"/><circle cx="632.81" cy="345.9" r="2.0"/><circle cx="625.26" cy="348.47" r="2.0"/><circle cx="625.26" cy="356.5" r="2.0"/><circle cx="625.26" cy="361.31" r="2.0"/><circle cx="629.12" cy="367.74" r="2.0"/><circle cx="621.57" cy="370.47" r="2.0"/><circle cx="660.91" cy="297.08" r="2.0"/><circle cx="658.99" cy="314.26" r="2.0"/><circle cx="654.81" cy="317.47" r="2.0"/><circle cx="662.84" cy="316.99" r="2.0"/><circle cx="666.53" cy="320.69" r="2.0"/><circle cx="658.99" cy="323.09" r="2.0"/><circle cx="654.81" cy="324.38" r="2.0"/><circle cx="666.53" cy="327.11" r="2.0"/><circle cx="660.91" cy="332.41" r="2.0"/><circle cx="654.81" cy="338.35" r="2.0"/><circle cx="662.84" cy="337.87" r="2.0"/><circle cx="651.28" cy="339.96" r="2.0"/><circle cx="670.55" cy="340.44" r="2.0"/><circle cx="658.99" cy="343.17" r="2.0"/><circle cx="662.84" cy="342.69" r="2.0"/><circle cx="666.53" cy="342.36" r="2.0"/><circle cx="654.81" cy="343.65" r="2.0"/><circle cx="662.84" cy="345.9" r="2.0"/><circle cx="658.99" cy="348.79" r="2.0"/><circle cx="666.53" cy="347.99" r="2.0"/><circle cx="662.84" cy="352" r="2.0"/><circle cx="660.91" cy="357.14" r="2.0"/>
<path d="M621.09 272.03H666.05" stroke="#000" stroke-width="2.3" fill="none"/>
<text x="643.57" y="264.48" font-size="13.0" text-anchor="middle">ns</text>
<text x="620.1" y="397.77" font-size="14.4" font-weight="bold" text-anchor="middle">Hosp</text>
<text x="662.1" y="397.77" font-size="14.4" font-weight="bold" text-anchor="middle">Non</text>
<text x="664" y="411.97" font-size="14.4" font-weight="bold" text-anchor="middle">Hosp</text>
<text x="83.6" y="442.2" font-size="15.5" font-weight="bold" text-anchor="middle">CENP-B</text>
<rect x="53.16" y="526.32" width="21.6" height="46.37" fill="#a2a2a6" stroke="#000" stroke-width="1.8"/>
<rect x="88.49" y="517.48" width="21.6" height="55.2" fill="#666666" stroke="#000" stroke-width="1.8"/>
<path d="M63.88 525.72V516.08M58.1 516.08H69.66" stroke="#000" stroke-width="0.8" fill="none"/>
<path d="M99.37 516.88V504.84M93.75 504.84H104.99" stroke="#000" stroke-width="0.8" fill="none"/>
<path d="M39.96 447.89V572.78H123.16M34.66 448.64H39.96M34.66 473.46H39.96M34.66 498.29H39.96M34.66 523.12H39.96M34.66 547.95H39.96M34.66 572.78H39.96M63.96 572.78V578.48M99.29 572.78V578.48" stroke="#000" stroke-width="1.5" fill="none"/>
<text x="29.36" y="452.24" font-size="9.8" font-weight="bold" text-anchor="end">10</text>
<text x="30.36" y="449.24" font-size="6.3" font-weight="bold" stroke="#000" stroke-width="0.25">5</text>
<text x="29.36" y="477.06" font-size="9.8" font-weight="bold" text-anchor="end">10</text>
<text x="30.36" y="474.06" font-size="6.3" font-weight="bold" stroke="#000" stroke-width="0.25">4</text>
<text x="29.36" y="501.89" font-size="9.8" font-weight="bold" text-anchor="end">10</text>
<text x="30.36" y="498.89" font-size="6.3" font-weight="bold" stroke="#000" stroke-width="0.25">3</text>
<text x="29.36" y="526.72" font-size="9.8" font-weight="bold" text-anchor="end">10</text>
<text x="30.36" y="523.72" font-size="6.3" font-weight="bold" stroke="#000" stroke-width="0.25">2</text>
<text x="29.36" y="551.55" font-size="9.8" font-weight="bold" text-anchor="end">10</text>
<text x="30.36" y="548.55" font-size="6.3" font-weight="bold" stroke="#000" stroke-width="0.25">1</text>
<text x="29.36" y="576.38" font-size="9.8" font-weight="bold" text-anchor="end">10</text>
<text x="30.36" y="573.38" font-size="6.3" font-weight="bold" stroke="#000" stroke-width="0.25">0</text>
<circle cx="60.03" cy="511.74" r="2.0"/><circle cx="67.42" cy="511.74" r="2.0"/><circle cx="60.03" cy="516.88" r="2.0"/><circle cx="67.42" cy="516.56" r="2.0"/><circle cx="63.72" cy="526.52" r="2.0"/><circle cx="56.18" cy="530.85" r="2.0"/><circle cx="63.72" cy="531.66" r="2.0"/><circle cx="56.18" cy="535.03" r="2.0"/><circle cx="71.27" cy="534.55" r="2.0"/><circle cx="63.72" cy="541.77" r="2.0"/><circle cx="63.72" cy="548.2" r="2.0"/><circle cx="60.03" cy="555.91" r="2.0"/><circle cx="67.42" cy="555.74" r="2.0"/><circle cx="95.84" cy="495.69" r="2.0"/><circle cx="102.26" cy="496.01" r="2.0"/><circle cx="102.58" cy="504.36" r="2.0"/><circle cx="95.84" cy="507.57" r="2.0"/><circle cx="102.58" cy="515.28" r="2.0"/><circle cx="89.42" cy="520.9" r="2.0"/><circle cx="95.84" cy="520.09" r="2.0"/><circle cx="95.84" cy="524.91" r="2.0"/><circle cx="102.58" cy="526.84" r="2.0"/><circle cx="108.69" cy="527.8" r="2.0"/><circle cx="95.84" cy="530.53" r="2.0"/><circle cx="89.42" cy="534.87" r="2.0"/><circle cx="102.58" cy="534.55" r="2.0"/><circle cx="95.84" cy="535.83" r="2.0"/><circle cx="102.58" cy="538.56" r="2.0"/><circle cx="95.84" cy="543.38" r="2.0"/><circle cx="102.58" cy="543.38" r="2.0"/><circle cx="108.69" cy="548.2" r="2.0"/><circle cx="89.42" cy="550.28" r="2.0"/><circle cx="102.58" cy="550.28" r="2.0"/><circle cx="95.84" cy="553.5" r="2.0"/><circle cx="102.58" cy="556.23" r="2.0"/><circle cx="95.84" cy="558.31" r="2.0"/>
<path d="M60.19 468.71H104.99" stroke="#000" stroke-width="2.3" fill="none"/>
<text x="82.51" y="461" font-size="13.0" text-anchor="middle">ns</text>
<text x="60.1" y="593.78" font-size="14.4" font-weight="bold" text-anchor="middle">Hosp</text>
<text x="101.75" y="593.78" font-size="14.4" font-weight="bold" text-anchor="middle">Non</text>
<text x="103.65" y="607.98" font-size="14.4" font-weight="bold" text-anchor="middle">Hosp</text>
<text x="196.5" y="442.2" font-size="15.5" font-weight="bold" text-anchor="middle">Scl-70</text>
<rect x="165.89" y="519.89" width="21.6" height="52.79" fill="#a2a2a6" stroke="#000" stroke-width="1.8"/>
<rect x="201.46" y="508.65" width="21.6" height="64.03" fill="#666666" stroke="#000" stroke-width="1.8"/>
<path d="M176.53 519.29V509.18M170.91 509.18H182.15" stroke="#000" stroke-width="0.8" fill="none"/>
<path d="M212.01 508.05V492.31M206.23 492.31H217.8" stroke="#000" stroke-width="0.8" fill="none"/>
<path d="M152.92 447.89V572.78H236.12M147.62 448.64H152.92M147.62 473.46H152.92M147.62 498.29H152.92M147.62 523.12H152.92M147.62 547.95H152.92M147.62 572.78H152.92M176.69 572.78V578.48M212.26 572.78V578.48" stroke="#000" stroke-width="1.5" fill="none"/>
<text x="142.32" y="452.24" font-size="9.8" font-weight="bold" text-anchor="end">10</text>
<text x="143.32" y="449.24" font-size="6.3" font-weight="bold" stroke="#000" stroke-width="0.25">5</text>
<text x="142.32" y="477.06" font-size="9.8" font-weight="bold" text-anchor="end">10</text>
<text x="143.32" y="474.06" font-size="6.3" font-weight="bold" stroke="#000" stroke-width="0.25">4</text>
<text x="142.32" y="501.89" font-size="9.8" font-weight="bold" text-anchor="end">10</text>
<text x="143.32" y="498.89" font-size="6.3" font-weight="bold" stroke="#000" stroke-width="0.25">3</text>
<text x="142.32" y="526.72" font-size="9.8" font-weight="bold" text-anchor="end">10</text>
<text x="143.32" y="523.72" font-size="6.3" font-weight="bold" stroke="#000" stroke-width="0.25">2</text>
<text x="142.32" y="551.55" font-size="9.8" font-weight="bold" text-anchor="end">10</text>
<text x="143.32" y="548.55" font-size="6.3" font-weight="bold" stroke="#000" stroke-width="0.25">1</text>
<text x="142.32" y="576.38" font-size="9.8" font-weight="bold" text-anchor="end">10</text>
<text x="143.32" y="573.38" font-size="6.3" font-weight="bold" stroke="#000" stroke-width="0.25">0</text>
<circle cx="176.53" cy="500.82" r="2.0"/><circle cx="176.53" cy="506.45" r="2.0"/><circle cx="176.53" cy="513.35" r="2.0"/><circle cx="180.06" cy="521.38" r="2.0"/><circle cx="172.99" cy="523.31" r="2.0"/><circle cx="166.09" cy="528.93" r="2.0"/><circle cx="172.99" cy="530.05" r="2.0"/><circle cx="180.06" cy="530.05" r="2.0"/><circle cx="166.09" cy="532.62" r="2.0"/><circle cx="186.64" cy="531.66" r="2.0"/><circle cx="180.06" cy="535.35" r="2.0"/><circle cx="172.99" cy="536.96" r="2.0"/><circle cx="180.06" cy="547.39" r="2.0"/><circle cx="172.99" cy="549" r="2.0"/><circle cx="212.18" cy="478.02" r="2.0"/><circle cx="212.18" cy="496.81" r="2.0"/><circle cx="217.47" cy="509.66" r="2.0"/><circle cx="212.18" cy="512.07" r="2.0"/><circle cx="206.72" cy="512.87" r="2.0"/><circle cx="203.02" cy="514.47" r="2.0"/><circle cx="221.81" cy="515.6" r="2.0"/><circle cx="206.72" cy="517.69" r="2.0"/><circle cx="212.18" cy="516.56" r="2.0"/><circle cx="216.67" cy="517.2" r="2.0"/><circle cx="221.81" cy="522.02" r="2.0"/><circle cx="206.72" cy="524.59" r="2.0"/><circle cx="216.67" cy="524.59" r="2.0"/><circle cx="221.81" cy="525.72" r="2.0"/><circle cx="212.18" cy="526.84" r="2.0"/><circle cx="206.72" cy="529.41" r="2.0"/><circle cx="216.67" cy="528.93" r="2.0"/><circle cx="212.18" cy="531.01" r="2.0"/><circle cx="212.18" cy="536.47" r="2.0"/><circle cx="206.72" cy="538.08" r="2.0"/><circle cx="216.67" cy="539.69" r="2.0"/><circle cx="212.18" cy="542.26" r="2.0"/><circle cx="214.26" cy="547.72" r="2.0"/><circle cx="209.45" cy="548.68" r="2.0"/>
<path d="M172.51 470.64H217.15" stroke="#000" stroke-width="2.3" fill="none"/>
<text x="194.99" y="463.09" font-size="13.0" text-anchor="middle">ns</text>
<text x="172.75" y="593.78" font-size="14.4" font-weight="bold" text-anchor="middle">Hosp</text>
<text x="214.45" y="593.78" font-size="14.4" font-weight="bold" text-anchor="middle">Non</text>
<text x="216.35" y="607.98" font-size="14.4" font-weight="bold" text-anchor="middle">Hosp</text>
<text x="307" y="442.2" font-size="15.5" font-weight="bold" text-anchor="middle">Jo-1</text>
<rect x="278.49" y="500.94" width="21.6" height="71.74" fill="#a2a2a6" stroke="#000" stroke-width="1.8"/>
<rect x="313.98" y="514.27" width="21.6" height="58.41" fill="#666666" stroke="#000" stroke-width="1.8"/>
<path d="M289.13 500.34V485.25M283.51 485.25H294.75" stroke="#000" stroke-width="0.8" fill="none"/>
<path d="M324.46 513.67V504.04M318.84 504.04H330.08" stroke="#000" stroke-width="0.8" fill="none"/>
<path d="M265.53 447.89V572.78H348.73M260.23 448.64H265.53M260.23 473.46H265.53M260.23 498.29H265.53M260.23 523.12H265.53M260.23 547.95H265.53M260.23 572.78H265.53M289.29 572.78V578.48M324.78 572.78V578.48" stroke="#000" stroke-width="1.5" fill="none"/>
<text x="254.93" y="452.24" font-size="9.8" font-weight="bold" text-anchor="end">10</text>
<text x="255.93" y="449.24" font-size="6.3" font-weight="bold" stroke="#000" stroke-width="0.25">5</text>
<text x="254.93" y="477.06" font-size="9.8" font-weight="bold" text-anchor="end">10</text>
<text x="255.93" y="474.06" font-size="6.3" font-weight="bold" stroke="#000" stroke-width="0.25">4</text>
<text x="254.93" y="501.89" font-size="9.8" font-weight="bold" text-anchor="end">10</text>
<text x="255.93" y="498.89" font-size="6.3" font-weight="bold" stroke="#000" stroke-width="0.25">3</text>
<text x="254.93" y="526.72" font-size="9.8" font-weight="bold" text-anchor="end">10</text>
<text x="255.93" y="523.72" font-size="6.3" font-weight="bold" stroke="#000" stroke-width="0.25">2</text>
<text x="254.93" y="551.55" font-size="9.8" font-weight="bold" text-anchor="end">10</text>
<text x="255.93" y="548.55" font-size="6.3" font-weight="bold" stroke="#000" stroke-width="0.25">1</text>
<text x="254.93" y="576.38" font-size="9.8" font-weight="bold" text-anchor="end">10</text>
<text x="255.93" y="573.38" font-size="6.3" font-weight="bold" stroke="#000" stroke-width="0.25">0</text>
<circle cx="289.13" cy="473.53" r="2.0"/><circle cx="289.13" cy="502.43" r="2.0"/><circle cx="281.58" cy="507.57" r="2.0"/><circle cx="281.58" cy="511.74" r="2.0"/><circle cx="289.13" cy="510.78" r="2.0"/><circle cx="296.36" cy="512.55" r="2.0"/><circle cx="289.13" cy="514.96" r="2.0"/><circle cx="296.36" cy="526.2" r="2.0"/><circle cx="281.58" cy="527.8" r="2.0"/><circle cx="289.13" cy="531.01" r="2.0"/><circle cx="296.36" cy="530.53" r="2.0"/><circle cx="289.13" cy="535.83" r="2.0"/><circle cx="289.13" cy="543.86" r="2.0"/><circle cx="289.13" cy="554.14" r="2.0"/><circle cx="324.46" cy="498.9" r="2.0"/><circle cx="329.6" cy="500.02" r="2.0"/><circle cx="319.32" cy="503.23" r="2.0"/><circle cx="324.46" cy="504.84" r="2.0"/><circle cx="329.6" cy="504.36" r="2.0"/><circle cx="319.32" cy="508.05" r="2.0"/><circle cx="324.46" cy="509.66" r="2.0"/><circle cx="329.6" cy="508.05" r="2.0"/><circle cx="319.32" cy="516.08" r="2.0"/><circle cx="324.46" cy="518.17" r="2.0"/><circle cx="329.6" cy="518.17" r="2.0"/><circle cx="314.82" cy="518.81" r="2.0"/><circle cx="314.82" cy="522.02" r="2.0"/><circle cx="319.32" cy="522.02" r="2.0"/><circle cx="324.46" cy="522.99" r="2.0"/><circle cx="329.6" cy="523.63" r="2.0"/><circle cx="334.09" cy="522.5" r="2.0"/><circle cx="314.82" cy="531.66" r="2.0"/><circle cx="319.32" cy="533.26" r="2.0"/><circle cx="324.46" cy="534.87" r="2.0"/><circle cx="329.6" cy="534.55" r="2.0"/><circle cx="329.6" cy="539.04" r="2.0"/><circle cx="324.46" cy="542.26" r="2.0"/><circle cx="324.46" cy="554.14" r="2.0"/>
<path d="M284.31 464.69H329.6" stroke="#000" stroke-width="2.3" fill="none"/>
<text x="307.12" y="457.15" font-size="13.0" text-anchor="middle">ns</text>
<text x="283.95" y="593.78" font-size="14.4" font-weight="bold" text-anchor="middle">Hosp</text>
<text x="324.6" y="593.78" font-size="14.4" font-weight="bold" text-anchor="middle">Non</text>
<text x="326.5" y="607.98" font-size="14.4" font-weight="bold" text-anchor="middle">Hosp</text>
<text x="416.9" y="442.2" font-size="15.5" font-weight="bold" text-anchor="middle">C1q</text>
<rect x="390.49" y="521.5" width="21.6" height="51.19" fill="#a2a2a6" stroke="#000" stroke-width="1.8"/>
<rect x="425.98" y="511.86" width="21.6" height="60.82" fill="#666666" stroke="#000" stroke-width="1.8"/>
<path d="M401.13 520.9V509.34M395.51 509.34H406.75" stroke="#000" stroke-width="0.8" fill="none"/>
<path d="M436.46 511.26V497.29M430.84 497.29H442.08" stroke="#000" stroke-width="0.8" fill="none"/>
<path d="M377.53 447.89V572.78H460.73M372.23 448.64H377.53M372.23 473.46H377.53M372.23 498.29H377.53M372.23 523.12H377.53M372.23 547.95H377.53M372.23 572.78H377.53M401.29 572.78V578.48M436.78 572.78V578.48" stroke="#000" stroke-width="1.5" fill="none"/>
<text x="366.93" y="452.24" font-size="9.8" font-weight="bold" text-anchor="end">10</text>
<text x="367.93" y="449.24" font-size="6.3" font-weight="bold" stroke="#000" stroke-width="0.25">5</text>
<text x="366.93" y="477.06" font-size="9.8" font-weight="bold" text-anchor="end">10</text>
<text x="367.93" y="474.06" font-size="6.3" font-weight="bold" stroke="#000" stroke-width="0.25">4</text>
<text x="366.93" y="501.89" font-size="9.8" font-weight="bold" text-anchor="end">10</text>
<text x="367.93" y="498.89" font-size="6.3" font-weight="bold" stroke="#000" stroke-width="0.25">3</text>
<text x="366.93" y="526.72" font-size="9.8" font-weight="bold" text-anchor="end">10</text>
<text x="367.93" y="523.72" font-size="6.3" font-weight="bold" stroke="#000" stroke-width="0.25">2</text>
<text x="366.93" y="551.55" font-size="9.8" font-weight="bold" text-anchor="end">10</text>
<text x="367.93" y="548.55" font-size="6.3" font-weight="bold" stroke="#000" stroke-width="0.25">1</text>
<text x="366.93" y="576.38" font-size="9.8" font-weight="bold" text-anchor="end">10</text>
<text x="367.93" y="573.38" font-size="6.3" font-weight="bold" stroke="#000" stroke-width="0.25">0</text>
<circle cx="408.36" cy="502.11" r="2.0"/><circle cx="401.13" cy="504.52" r="2.0"/><circle cx="401.13" cy="510.14" r="2.0"/><circle cx="393.58" cy="527.8" r="2.0"/><circle cx="408.36" cy="530.05" r="2.0"/><circle cx="401.13" cy="533.74" r="2.0"/><circle cx="397.12" cy="542.9" r="2.0"/><circle cx="404.66" cy="542.9" r="2.0"/><circle cx="393.58" cy="547.07" r="2.0"/><circle cx="401.13" cy="547.72" r="2.0"/><circle cx="408.36" cy="547.07" r="2.0"/><circle cx="397.12" cy="552.53" r="2.0"/><circle cx="404.66" cy="552.53" r="2.0"/><circle cx="401.13" cy="560.24" r="2.0"/><circle cx="436.46" cy="485.25" r="2.0"/><circle cx="436.46" cy="492.8" r="2.0"/><circle cx="436.46" cy="500.02" r="2.0"/><circle cx="446.09" cy="510.78" r="2.0"/><circle cx="433.25" cy="512.39" r="2.0"/><circle cx="439.67" cy="512.87" r="2.0"/><circle cx="426.82" cy="516.88" r="2.0"/><circle cx="433.25" cy="516.56" r="2.0"/><circle cx="439.67" cy="517.2" r="2.0"/><circle cx="439.67" cy="521.7" r="2.0"/><circle cx="433.25" cy="524.91" r="2.0"/><circle cx="446.09" cy="532.14" r="2.0"/><circle cx="433.25" cy="535.83" r="2.0"/><circle cx="439.67" cy="534.55" r="2.0"/><circle cx="426.82" cy="541.29" r="2.0"/><circle cx="433.25" cy="542.9" r="2.0"/><circle cx="439.67" cy="540.65" r="2.0"/><circle cx="446.09" cy="541.29" r="2.0"/><circle cx="433.25" cy="546.11" r="2.0"/><circle cx="439.67" cy="544.99" r="2.0"/><circle cx="446.09" cy="546.59" r="2.0"/><circle cx="433.25" cy="550.28" r="2.0"/><circle cx="439.67" cy="551.89" r="2.0"/><circle cx="436.46" cy="555.74" r="2.0"/>
<path d="M394.39 470.64H439.67" stroke="#000" stroke-width="2.3" fill="none"/>
<text x="417.19" y="463.09" font-size="13.0" text-anchor="middle">ns</text>
<text x="395.45" y="593.78" font-size="14.4" font-weight="bold" text-anchor="middle">Hosp</text>
<text x="437.45" y="593.78" font-size="14.4" font-weight="bold" text-anchor="middle">Non</text>
<text x="439.35" y="607.98" font-size="14.4" font-weight="bold" text-anchor="middle">Hosp</text>
<text x="533.5" y="442.2" font-size="15.5" font-weight="bold" text-anchor="middle">PM/Scl-100</text>
<rect x="502.49" y="558.91" width="21.6" height="13.77" fill="#a2a2a6" stroke="#000" stroke-width="1.8"/>
<rect x="537.98" y="561.96" width="21.6" height="10.72" fill="#666666" stroke="#000" stroke-width="1.8"/>
<path d="M513.13 558.31V548.2M507.51 548.2H518.75" stroke="#000" stroke-width="0.8" fill="none"/>
<path d="M548.46 561.36V551.89M542.84 551.89H554.08" stroke="#000" stroke-width="0.8" fill="none"/>
<path d="M489.53 447.89V572.78H572.73M484.23 448.64H489.53M484.23 473.46H489.53M484.23 498.29H489.53M484.23 523.12H489.53M484.23 547.95H489.53M484.23 572.78H489.53M513.29 572.78V578.48M548.78 572.78V578.48" stroke="#000" stroke-width="1.5" fill="none"/>
<text x="478.93" y="452.24" font-size="9.8" font-weight="bold" text-anchor="end">10</text>
<text x="479.93" y="449.24" font-size="6.3" font-weight="bold" stroke="#000" stroke-width="0.25">5</text>
<text x="478.93" y="477.06" font-size="9.8" font-weight="bold" text-anchor="end">10</text>
<text x="479.93" y="474.06" font-size="6.3" font-weight="bold" stroke="#000" stroke-width="0.25">4</text>
<text x="478.93" y="501.89" font-size="9.8" font-weight="bold" text-anchor="end">10</text>
<text x="479.93" y="498.89" font-size="6.3" font-weight="bold" stroke="#000" stroke-width="0.25">3</text>
<text x="478.93" y="526.72" font-size="9.8" font-weight="bold" text-anchor="end">10</text>
<text x="479.93" y="523.72" font-size="6.3" font-weight="bold" stroke="#000" stroke-width="0.25">2</text>
<text x="478.93" y="551.55" font-size="9.8" font-weight="bold" text-anchor="end">10</text>
<text x="479.93" y="548.55" font-size="6.3" font-weight="bold" stroke="#000" stroke-width="0.25">1</text>
<text x="478.93" y="576.38" font-size="9.8" font-weight="bold" text-anchor="end">10</text>
<text x="479.93" y="573.38" font-size="6.3" font-weight="bold" stroke="#000" stroke-width="0.25">0</text>
<circle cx="513.13" cy="539.04" r="2.0"/><circle cx="515.54" cy="553.5" r="2.0"/><circle cx="510.72" cy="554.62" r="2.0"/><circle cx="513.13" cy="558.64" r="2.0"/><circle cx="509.12" cy="561.85" r="2.0"/><circle cx="517.15" cy="561.85" r="2.0"/><circle cx="513.13" cy="563.45" r="2.0"/><circle cx="507.51" cy="566.99" r="2.0"/><circle cx="513.13" cy="567.47" r="2.0"/><circle cx="518.75" cy="566.99" r="2.0"/><circle cx="503.5" cy="569.07" r="2.0"/><circle cx="522.77" cy="569.07" r="2.0"/><circle cx="548.46" cy="539.85" r="2.0"/><circle cx="549.26" cy="554.3" r="2.0"/><circle cx="546.85" cy="560.24" r="2.0"/><circle cx="548.46" cy="557.83" r="2.0"/><circle cx="541.23" cy="563.45" r="2.0"/><circle cx="545.25" cy="563.45" r="2.0"/><circle cx="549.26" cy="563.45" r="2.0"/><circle cx="553.28" cy="563.45" r="2.0"/><circle cx="538.82" cy="565.86" r="2.0"/><circle cx="542.84" cy="565.86" r="2.0"/><circle cx="546.85" cy="565.86" r="2.0"/><circle cx="550.87" cy="565.86" r="2.0"/><circle cx="554.88" cy="565.86" r="2.0"/><circle cx="558.09" cy="565.86" r="2.0"/><circle cx="540.43" cy="568.27" r="2.0"/><circle cx="544.45" cy="568.27" r="2.0"/><circle cx="548.46" cy="568.27" r="2.0"/><circle cx="552.47" cy="568.27" r="2.0"/><circle cx="556.49" cy="568.27" r="2.0"/><circle cx="538.82" cy="570.68" r="2.0"/><circle cx="542.84" cy="570.68" r="2.0"/><circle cx="546.85" cy="570.68" r="2.0"/><circle cx="550.87" cy="570.68" r="2.0"/><circle cx="554.88" cy="570.68" r="2.0"/><circle cx="558.09" cy="570.68" r="2.0"/>
<path d="M507.03 504.04H551.99" stroke="#000" stroke-width="2.3" fill="none"/>
<text x="529.51" y="496.49" font-size="13.0" text-anchor="middle">ns</text>
<text x="507.75" y="593.78" font-size="14.4" font-weight="bold" text-anchor="middle">Hosp</text>
<text x="549.8" y="593.78" font-size="14.4" font-weight="bold" text-anchor="middle">Non</text>
<text x="551.7" y="607.98" font-size="14.4" font-weight="bold" text-anchor="middle">Hosp</text>
<text x="642.5" y="442.2" font-size="15.5" font-weight="bold" text-anchor="middle">Ku</text>
<rect x="614.14" y="518.61" width="21.6" height="54.08" fill="#a2a2a6" stroke="#000" stroke-width="1.8"/>
<rect x="649.47" y="512.18" width="21.6" height="60.5" fill="#666666" stroke="#000" stroke-width="1.8"/>
<path d="M624.94 518.01V507.57M619.16 507.57H630.72" stroke="#000" stroke-width="0.8" fill="none"/>
<path d="M660.27 511.58V501.15M654.49 501.15H666.05" stroke="#000" stroke-width="0.8" fill="none"/>
<path d="M601.18 447.89V572.78H684.38M595.88 448.64H601.18M595.88 473.46H601.18M595.88 498.29H601.18M595.88 523.12H601.18M595.88 547.95H601.18M595.88 572.78H601.18M624.94 572.78V578.48M660.27 572.78V578.48" stroke="#000" stroke-width="1.5" fill="none"/>
<text x="590.58" y="452.24" font-size="9.8" font-weight="bold" text-anchor="end">10</text>
<text x="591.58" y="449.24" font-size="6.3" font-weight="bold" stroke="#000" stroke-width="0.25">5</text>
<text x="590.58" y="477.06" font-size="9.8" font-weight="bold" text-anchor="end">10</text>
<text x="591.58" y="474.06" font-size="6.3" font-weight="bold" stroke="#000" stroke-width="0.25">4</text>
<text x="590.58" y="501.89" font-size="9.8" font-weight="bold" text-anchor="end">10</text>
<text x="591.58" y="498.89" font-size="6.3" font-weight="bold" stroke="#000" stroke-width="0.25">3</text>
<text x="590.58" y="526.72" font-size="9.8" font-weight="bold" text-anchor="end">10</text>
<text x="591.58" y="523.72" font-size="6.3" font-weight="bold" stroke="#000" stroke-width="0.25">2</text>
<text x="590.58" y="551.55" font-size="9.8" font-weight="bold" text-anchor="end">10</text>
<text x="591.58" y="548.55" font-size="6.3" font-weight="bold" stroke="#000" stroke-width="0.25">1</text>
<text x="590.58" y="576.38" font-size="9.8" font-weight="bold" text-anchor="end">10</text>
<text x="591.58" y="573.38" font-size="6.3" font-weight="bold" stroke="#000" stroke-width="0.25">0</text>
<circle cx="624.78" cy="500.02" r="2.0"/><circle cx="624.78" cy="503.72" r="2.0"/><circle cx="617.23" cy="513.99" r="2.0"/><circle cx="624.78" cy="517.2" r="2.0"/><circle cx="624.78" cy="520.9" r="2.0"/><circle cx="617.23" cy="527.8" r="2.0"/><circle cx="624.78" cy="526.84" r="2.0"/><circle cx="632.33" cy="525.72" r="2.0"/><circle cx="632.33" cy="530.21" r="2.0"/><circle cx="624.78" cy="531.01" r="2.0"/><circle cx="624.78" cy="537.28" r="2.0"/><circle cx="617.23" cy="549.32" r="2.0"/><circle cx="624.78" cy="548.2" r="2.0"/><circle cx="632.33" cy="549.32" r="2.0"/><circle cx="660.11" cy="489.58" r="2.0"/><circle cx="662.04" cy="500.02" r="2.0"/><circle cx="658.18" cy="501.31" r="2.0"/><circle cx="658.18" cy="508.05" r="2.0"/><circle cx="662.04" cy="508.05" r="2.0"/><circle cx="665.73" cy="510.78" r="2.0"/><circle cx="668.14" cy="512.39" r="2.0"/><circle cx="662.04" cy="513.35" r="2.0"/><circle cx="654.81" cy="517.69" r="2.0"/><circle cx="658.18" cy="517.2" r="2.0"/><circle cx="662.04" cy="517.2" r="2.0"/><circle cx="665.73" cy="514.47" r="2.0"/><circle cx="669.74" cy="517.69" r="2.0"/><circle cx="665.73" cy="519.29" r="2.0"/><circle cx="658.18" cy="521.38" r="2.0"/><circle cx="662.04" cy="522.99" r="2.0"/><circle cx="658.18" cy="526.84" r="2.0"/><circle cx="662.04" cy="527.8" r="2.0"/><circle cx="654.81" cy="530.05" r="2.0"/><circle cx="658.18" cy="531.34" r="2.0"/><circle cx="662.04" cy="531.66" r="2.0"/><circle cx="660.11" cy="536.47" r="2.0"/><circle cx="660.11" cy="542.26" r="2.0"/>
<path d="M619.16 474.65H664.12" stroke="#000" stroke-width="2.3" fill="none"/>
<text x="641.64" y="467.1" font-size="13.0" text-anchor="middle">ns</text>
<text x="620.1" y="593.78" font-size="14.4" font-weight="bold" text-anchor="middle">Hosp</text>
<text x="662.1" y="593.78" font-size="14.4" font-weight="bold" text-anchor="middle">Non</text>
<text x="664" y="607.98" font-size="14.4" font-weight="bold" text-anchor="middle">Hosp</text>
<text x="85.1" y="640.5" font-size="15.5" font-weight="bold" text-anchor="middle">Mi-2</text>
<rect x="52.68" y="715.29" width="21.6" height="53.93" fill="#a2a2a6" stroke="#000" stroke-width="1.8"/>
<rect x="88.01" y="705.33" width="21.6" height="63.88" fill="#666666" stroke="#000" stroke-width="1.8"/>
<path d="M63.4 714.69V707.14M57.78 707.14H69.02M63.4 714.69V751.3M57.78 751.3H69.02" stroke="#000" stroke-width="0.8" fill="none"/>
<path d="M98.73 704.73V694.61M93.11 694.61H104.35" stroke="#000" stroke-width="0.8" fill="none"/>
<path d="M39.64 644.56V769.31H122.84M34.34 645.31H39.64M34.34 670.11H39.64M34.34 694.91H39.64M34.34 719.71H39.64M34.34 744.51H39.64M34.34 769.31H39.64M63.48 769.31V775.01M98.81 769.31V775.01" stroke="#000" stroke-width="1.5" fill="none"/>
<text x="29.04" y="648.91" font-size="9.8" font-weight="bold" text-anchor="end">10</text>
<text x="30.04" y="645.91" font-size="6.3" font-weight="bold" stroke="#000" stroke-width="0.25">5</text>
<text x="29.04" y="673.71" font-size="9.8" font-weight="bold" text-anchor="end">10</text>
<text x="30.04" y="670.71" font-size="6.3" font-weight="bold" stroke="#000" stroke-width="0.25">4</text>
<text x="29.04" y="698.51" font-size="9.8" font-weight="bold" text-anchor="end">10</text>
<text x="30.04" y="695.51" font-size="6.3" font-weight="bold" stroke="#000" stroke-width="0.25">3</text>
<text x="29.04" y="723.31" font-size="9.8" font-weight="bold" text-anchor="end">10</text>
<text x="30.04" y="720.31" font-size="6.3" font-weight="bold" stroke="#000" stroke-width="0.25">2</text>
<text x="29.04" y="748.11" font-size="9.8" font-weight="bold" text-anchor="end">10</text>
<text x="30.04" y="745.11" font-size="6.3" font-weight="bold" stroke="#000" stroke-width="0.25">1</text>
<text x="29.04" y="772.91" font-size="9.8" font-weight="bold" text-anchor="end">10</text>
<text x="30.04" y="769.91" font-size="6.3" font-weight="bold" stroke="#000" stroke-width="0.25">0</text>
<circle cx="70.95" cy="702.64" r="2.0"/><circle cx="55.69" cy="705.53" r="2.0"/><circle cx="63.24" cy="705.05" r="2.0"/><circle cx="63.24" cy="709.55" r="2.0"/><circle cx="55.69" cy="710.99" r="2.0"/><circle cx="70.95" cy="710.99" r="2.0"/><circle cx="63.24" cy="714.69" r="2.0"/><circle cx="63.24" cy="725.12" r="2.0"/><circle cx="63.24" cy="730.74" r="2.0"/><circle cx="70.95" cy="730.26" r="2.0"/><circle cx="55.69" cy="732.35" r="2.0"/><circle cx="70.95" cy="733.96" r="2.0"/><circle cx="63.24" cy="736.36" r="2.0"/><circle cx="63.24" cy="752.74" r="2.0"/><circle cx="98.73" cy="684.66" r="2.0"/><circle cx="98.73" cy="688.99" r="2.0"/><circle cx="96.64" cy="694.29" r="2.0"/><circle cx="100.66" cy="696.54" r="2.0"/><circle cx="92.63" cy="701.84" r="2.0"/><circle cx="92.63" cy="705.53" r="2.0"/><circle cx="96.64" cy="705.05" r="2.0"/><circle cx="100.66" cy="705.53" r="2.0"/><circle cx="104.67" cy="704.57" r="2.0"/><circle cx="96.64" cy="710.35" r="2.0"/><circle cx="100.66" cy="708.74" r="2.0"/><circle cx="104.67" cy="708.26" r="2.0"/><circle cx="94.72" cy="718.38" r="2.0"/><circle cx="98.73" cy="719.99" r="2.0"/><circle cx="102.74" cy="718.7" r="2.0"/><circle cx="92.63" cy="723.84" r="2.0"/><circle cx="96.64" cy="724.32" r="2.0"/><circle cx="104.67" cy="723.84" r="2.0"/><circle cx="100.66" cy="727.05" r="2.0"/><circle cx="96.64" cy="728.66" r="2.0"/><circle cx="98.73" cy="734.44" r="2.0"/><circle cx="98.73" cy="740.06" r="2.0"/>
<path d="M60.19 665.39H104.99" stroke="#000" stroke-width="2.3" fill="none"/>
<text x="82.51" y="657.68" font-size="13.0" text-anchor="middle">ns</text>
<text x="60.1" y="791.36" font-size="14.4" font-weight="bold" text-anchor="middle">Hosp</text>
<text x="101.75" y="791.36" font-size="14.4" font-weight="bold" text-anchor="middle">Non</text>
<text x="103.65" y="805.56" font-size="14.4" font-weight="bold" text-anchor="middle">Hosp</text>
<text x="197" y="640.5" font-size="15.5" font-weight="bold" text-anchor="middle">PL-12</text>
<rect x="164.92" y="716.89" width="21.6" height="52.32" fill="#a2a2a6" stroke="#000" stroke-width="1.8"/>
<rect x="200.41" y="709.18" width="21.6" height="60.03" fill="#666666" stroke="#000" stroke-width="1.8"/>
<path d="M175.4 716.29V709.07M169.78 709.07H181.02M175.4 716.29V737.17M169.78 737.17H181.02" stroke="#000" stroke-width="0.8" fill="none"/>
<path d="M210.89 708.58V697.34M205.11 697.34H216.67" stroke="#000" stroke-width="0.8" fill="none"/>
<path d="M151.96 644.56V769.31H235.16M146.66 645.31H151.96M146.66 670.11H151.96M146.66 694.91H151.96M146.66 719.71H151.96M146.66 744.51H151.96M146.66 769.31H151.96M175.72 769.31V775.01M211.21 769.31V775.01" stroke="#000" stroke-width="1.5" fill="none"/>
<text x="141.36" y="648.91" font-size="9.8" font-weight="bold" text-anchor="end">10</text>
<text x="142.36" y="645.91" font-size="6.3" font-weight="bold" stroke="#000" stroke-width="0.25">5</text>
<text x="141.36" y="673.71" font-size="9.8" font-weight="bold" text-anchor="end">10</text>
<text x="142.36" y="670.71" font-size="6.3" font-weight="bold" stroke="#000" stroke-width="0.25">4</text>
<text x="141.36" y="698.51" font-size="9.8" font-weight="bold" text-anchor="end">10</text>
<text x="142.36" y="695.51" font-size="6.3" font-weight="bold" stroke="#000" stroke-width="0.25">3</text>
<text x="141.36" y="723.31" font-size="9.8" font-weight="bold" text-anchor="end">10</text>
<text x="142.36" y="720.31" font-size="6.3" font-weight="bold" stroke="#000" stroke-width="0.25">2</text>
<text x="141.36" y="748.11" font-size="9.8" font-weight="bold" text-anchor="end">10</text>
<text x="142.36" y="745.11" font-size="6.3" font-weight="bold" stroke="#000" stroke-width="0.25">1</text>
<text x="141.36" y="772.91" font-size="9.8" font-weight="bold" text-anchor="end">10</text>
<text x="142.36" y="769.91" font-size="6.3" font-weight="bold" stroke="#000" stroke-width="0.25">0</text>
<circle cx="178.93" cy="704.25" r="2.0"/><circle cx="185.36" cy="707.46" r="2.0"/><circle cx="165.61" cy="710.67" r="2.0"/><circle cx="172.03" cy="710.99" r="2.0"/><circle cx="178.93" cy="712.6" r="2.0"/><circle cx="185.36" cy="713.08" r="2.0"/><circle cx="165.61" cy="714.69" r="2.0"/><circle cx="172.03" cy="715.49" r="2.0"/><circle cx="175.4" cy="723.2" r="2.0"/><circle cx="172.03" cy="731.23" r="2.0"/><circle cx="178.93" cy="732.35" r="2.0"/><circle cx="172.03" cy="738.77" r="2.0"/><circle cx="178.93" cy="741.18" r="2.0"/><circle cx="175.4" cy="753.23" r="2.0"/><circle cx="211.05" cy="684.98" r="2.0"/><circle cx="215.87" cy="697.82" r="2.0"/><circle cx="211.05" cy="699.75" r="2.0"/><circle cx="200.93" cy="704.73" r="2.0"/><circle cx="206.23" cy="705.05" r="2.0"/><circle cx="220.69" cy="705.05" r="2.0"/><circle cx="211.05" cy="706.66" r="2.0"/><circle cx="211.05" cy="710.67" r="2.0"/><circle cx="211.05" cy="715.17" r="2.0"/><circle cx="220.69" cy="717.9" r="2.0"/><circle cx="201.42" cy="719.5" r="2.0"/><circle cx="206.23" cy="719.5" r="2.0"/><circle cx="211.05" cy="719.5" r="2.0"/><circle cx="215.87" cy="719.5" r="2.0"/><circle cx="206.23" cy="724.32" r="2.0"/><circle cx="211.05" cy="723.84" r="2.0"/><circle cx="215.87" cy="724.32" r="2.0"/><circle cx="220.69" cy="722.72" r="2.0"/><circle cx="201.42" cy="725.12" r="2.0"/><circle cx="220.69" cy="726.73" r="2.0"/><circle cx="211.05" cy="728.01" r="2.0"/><circle cx="211.05" cy="732.83" r="2.0"/><circle cx="211.05" cy="743.11" r="2.0"/>
<path d="M172.19 675.34H217.15" stroke="#000" stroke-width="2.3" fill="none"/>
<text x="194.99" y="667.64" font-size="13.0" text-anchor="middle">ns</text>
<text x="172.75" y="791.36" font-size="14.4" font-weight="bold" text-anchor="middle">Hosp</text>
<text x="214.45" y="791.36" font-size="14.4" font-weight="bold" text-anchor="middle">Non</text>
<text x="216.35" y="805.56" font-size="14.4" font-weight="bold" text-anchor="middle">Hosp</text>
<text transform="translate(11.9 97) rotate(-90)" font-size="15.6" font-weight="bold" text-anchor="middle">AutoAb levels</text>
<text transform="translate(11.9 314.1) rotate(-90)" font-size="15.6" font-weight="bold" text-anchor="middle">AutoAb levels</text>
<text transform="translate(11.9 510.95) rotate(-90)" font-size="15.6" font-weight="bold" text-anchor="middle">AutoAb levels</text>
<text transform="translate(11.9 707.65) rotate(-90)" font-size="15.6" font-weight="bold" text-anchor="middle">AutoAb levels</text>
<text transform="translate(5.9 12.7) scale(0.88 1)" font-size="24" font-weight="bold">a</text>
<text transform="translate(269.4 640) scale(0.96 1)" font-size="24" font-weight="bold">b</text>
</g>
<g font-family="Liberation Sans, Arial, sans-serif">
<path d="M295.8 699.5L347.9 699.5" stroke="#000" stroke-width="0.6" fill="none"/>
<path d="M347.9 699.5L344.4 700.8L344.4 698.2Z" fill="#000"/>
<path d="M295.8 774.3L347.9 774.3" stroke="#000" stroke-width="0.6" fill="none"/>
<path d="M347.9 774.3L344.4 775.6L344.4 773Z" fill="#000"/>
<path d="M295.8 848.5L347.9 848.5" stroke="#000" stroke-width="0.6" fill="none"/>
<path d="M347.9 848.5L344.4 849.8L344.4 847.2Z" fill="#000"/>
<path d="M362.7 699.5L407.7 699.5" stroke="#000" stroke-width="0.6" fill="none"/>
<path d="M407.7 699.5L404.2 700.8L404.2 698.2Z" fill="#000"/>
<text transform="translate(364.7 698.1) rotate(0)" font-size="5.8" fill="#000" text-anchor="start">-0.3803</text>
<path d="M422.5 699.5L467.1 699.5" stroke="#000" stroke-width="0.6" fill="none"/>
<path d="M467.1 699.5L463.6 700.8L463.6 698.2Z" fill="#000"/>
<text transform="translate(424.5 698.1) rotate(0)" font-size="5.8" fill="#000" text-anchor="start">188.20231</text>
<path d="M359.92 705.28L410.48 768.52" stroke="#000" stroke-width="0.6" fill="none"/>
<path d="M410.48 768.52L407.28 766.6L409.31 764.97Z" fill="#000"/>
<text transform="translate(362.26 705.97) rotate(51.36)" font-size="5.8" fill="#000" text-anchor="start">0.03352</text>
<path d="M419.7 705.3L469.9 768.5" stroke="#000" stroke-width="0.6" fill="none"/>
<path d="M469.9 768.5L466.7 766.57L468.74 764.96Z" fill="#000"/>
<text transform="translate(422.04 705.99) rotate(51.55)" font-size="5.8" fill="#000" text-anchor="start">-433.08572</text>
<path d="M358.06 706.37L412.34 841.63" stroke="#000" stroke-width="0.6" fill="none"/>
<path d="M412.34 841.63L409.83 838.87L412.25 837.9Z" fill="#000"/>
<text transform="translate(360.1 707.7) rotate(68.13)" font-size="5.8" fill="#000" text-anchor="start">-297.83343</text>
<path d="M417.84 706.37L471.76 841.63" stroke="#000" stroke-width="0.6" fill="none"/>
<path d="M471.76 841.63L469.26 838.86L471.67 837.89Z" fill="#000"/>
<text transform="translate(419.88 707.71) rotate(68.26)" font-size="5.8" fill="#000" text-anchor="start">-701.90197</text>
<path d="M481.33 702.35L527.17 721.45" stroke="#000" stroke-width="0.6" fill="none"/>
<path d="M527.17 721.45L523.44 721.31L524.44 718.91Z" fill="#000"/>
<text transform="translate(483.72 701.82) rotate(22.63)" font-size="5.8" fill="#000" text-anchor="start">-6.72152</text>
<path d="M477.7 706.17L530.8 816.83" stroke="#000" stroke-width="0.6" fill="none"/>
<path d="M530.8 816.83L528.11 814.24L530.46 813.11Z" fill="#000"/>
<text transform="translate(479.83 707.37) rotate(64.37)" font-size="5.8" fill="#000" text-anchor="start">8.81468</text>
<path d="M359.92 768.52L410.48 705.28" stroke="#000" stroke-width="0.6" fill="none"/>
<path d="M410.48 705.28L409.31 708.83L407.28 707.2Z" fill="#000"/>
<text transform="translate(360.08 766.08) rotate(-51.36)" font-size="5.8" fill="#000" text-anchor="start">0.72773</text>
<path d="M419.7 768.5L469.9 705.3" stroke="#000" stroke-width="0.6" fill="none"/>
<path d="M469.9 705.3L468.74 708.84L466.7 707.23Z" fill="#000"/>
<text transform="translate(419.85 766.07) rotate(-51.55)" font-size="5.8" fill="#000" text-anchor="start">-359.83757</text>
<path d="M362.7 774.3L407.7 774.3" stroke="#000" stroke-width="0.6" fill="none"/>
<path d="M407.7 774.3L404.2 775.6L404.2 773Z" fill="#000"/>
<text transform="translate(364.7 772.9) rotate(0)" font-size="5.8" fill="#000" text-anchor="start">0.02733</text>
<path d="M422.5 774.3L467.1 774.3" stroke="#000" stroke-width="0.6" fill="none"/>
<path d="M467.1 774.3L463.6 775.6L463.6 773Z" fill="#000"/>
<text transform="translate(424.5 772.9) rotate(0)" font-size="5.8" fill="#000" text-anchor="start">269.57593</text>
<path d="M359.94 780.06L410.46 842.74" stroke="#000" stroke-width="0.6" fill="none"/>
<path d="M410.46 842.74L407.25 840.83L409.27 839.2Z" fill="#000"/>
<text transform="translate(362.29 780.74) rotate(51.13)" font-size="5.8" fill="#000" text-anchor="start">-0.13152</text>
<path d="M419.72 780.08L469.88 842.72" stroke="#000" stroke-width="0.6" fill="none"/>
<path d="M469.88 842.72L466.67 840.8L468.7 839.18Z" fill="#000"/>
<text transform="translate(422.07 780.76) rotate(51.32)" font-size="5.8" fill="#000" text-anchor="start">-9.92554</text>
<path d="M480.17 769.54L528.33 729.06" stroke="#000" stroke-width="0.6" fill="none"/>
<path d="M528.33 729.06L526.49 732.31L524.82 730.32Z" fill="#000"/>
<text transform="translate(480.8 767.18) rotate(-40.04)" font-size="5.8" fill="#000" text-anchor="start">-11.54665</text>
<path d="M480.2 779.02L528.3 818.78" stroke="#000" stroke-width="0.6" fill="none"/>
<path d="M528.3 818.78L524.77 817.56L526.43 815.55Z" fill="#000"/>
<text transform="translate(482.64 779.21) rotate(39.59)" font-size="5.8" fill="#000" text-anchor="start">11.83725</text>
<path d="M358.06 841.63L412.34 706.37" stroke="#000" stroke-width="0.6" fill="none"/>
<path d="M412.34 706.37L412.25 710.1L409.83 709.13Z" fill="#000"/>
<text transform="translate(357.5 839.25) rotate(-68.13)" font-size="5.8" fill="#000" text-anchor="start">-18.36849</text>
<path d="M417.84 841.63L471.76 706.37" stroke="#000" stroke-width="0.6" fill="none"/>
<path d="M471.76 706.37L471.67 710.11L469.26 709.14Z" fill="#000"/>
<text transform="translate(417.28 839.25) rotate(-68.26)" font-size="5.8" fill="#000" text-anchor="start">473.35125</text>
<path d="M359.94 842.74L410.46 780.06" stroke="#000" stroke-width="0.6" fill="none"/>
<path d="M410.46 780.06L409.27 783.6L407.25 781.97Z" fill="#000"/>
<text transform="translate(360.11 840.3) rotate(-51.13)" font-size="5.8" fill="#000" text-anchor="start">-9.11714</text>
<path d="M419.72 842.72L469.88 780.08" stroke="#000" stroke-width="0.6" fill="none"/>
<path d="M469.88 780.08L468.7 783.62L466.67 782Z" fill="#000"/>
<text transform="translate(419.88 840.29) rotate(-51.32)" font-size="5.8" fill="#000" text-anchor="start">-486.75869</text>
<path d="M362.7 848.5L407.7 848.5" stroke="#000" stroke-width="0.6" fill="none"/>
<path d="M407.7 848.5L404.2 849.8L404.2 847.2Z" fill="#000"/>
<text transform="translate(364.7 847.1) rotate(0)" font-size="5.8" fill="#000" text-anchor="start">4.55345</text>
<path d="M422.5 848.5L467.1 848.5" stroke="#000" stroke-width="0.6" fill="none"/>
<path d="M467.1 848.5L463.6 849.8L463.6 847.2Z" fill="#000"/>
<text transform="translate(424.5 847.1) rotate(0)" font-size="5.8" fill="#000" text-anchor="start">-418.00025</text>
<path d="M477.7 841.83L530.8 730.97" stroke="#000" stroke-width="0.6" fill="none"/>
<path d="M530.8 730.97L530.46 734.69L528.12 733.57Z" fill="#000"/>
<text transform="translate(477.3 839.42) rotate(-64.4)" font-size="5.8" fill="#000" text-anchor="start">-7.0852</text>
<path d="M481.32 845.63L527.18 826.37" stroke="#000" stroke-width="0.6" fill="none"/>
<path d="M527.18 826.37L524.45 828.92L523.45 826.52Z" fill="#000"/>
<text transform="translate(482.62 843.57) rotate(-22.79)" font-size="5.8" fill="#000" text-anchor="start">7.91112</text>
<path d="M382.65 646.32L411.25 693.18" stroke="#0000ff" stroke-width="0.6" fill="none"/>
<path d="M411.25 693.18L408.31 690.87L410.53 689.52Z" fill="#0000ff"/>
<text transform="translate(409.32 687.33) rotate(58.61)" font-size="5.8" fill="#0000ff" text-anchor="end">-34.50111</text>
<path d="M442.52 646.34L470.68 693.16" stroke="#0000ff" stroke-width="0.6" fill="none"/>
<path d="M470.68 693.16L467.77 690.83L469.99 689.49Z" fill="#0000ff"/>
<text transform="translate(468.79 687.3) rotate(58.97)" font-size="5.8" fill="#0000ff" text-anchor="end">17.72703</text>
<path d="M380.73 647.14L413.17 767.16" stroke="#0000ff" stroke-width="0.6" fill="none"/>
<path d="M413.17 767.16L411 764.12L413.51 763.44Z" fill="#0000ff"/>
<text transform="translate(412.96 761) rotate(74.87)" font-size="5.8" fill="#0000ff" text-anchor="end">-2.50163</text>
<path d="M440.61 647.15L472.59 767.15" stroke="#0000ff" stroke-width="0.6" fill="none"/>
<path d="M472.59 767.15L470.44 764.1L472.95 763.43Z" fill="#0000ff"/>
<text transform="translate(472.4 760.99) rotate(75.07)" font-size="5.8" fill="#0000ff" text-anchor="end">-73.78205</text>
<path d="M380.07 647.29L413.83 841.21" stroke="#0000ff" stroke-width="0.6" fill="none"/>
<path d="M413.83 841.21L411.95 837.98L414.51 837.54Z" fill="#0000ff"/>
<text transform="translate(414.18 835.06) rotate(80.12)" font-size="5.8" fill="#0000ff" text-anchor="end">141.96654</text>
<path d="M439.95 647.29L473.25 841.21" stroke="#0000ff" stroke-width="0.6" fill="none"/>
<path d="M473.25 841.21L471.37 837.98L473.94 837.54Z" fill="#0000ff"/>
<text transform="translate(473.61 835.06) rotate(80.26)" font-size="5.8" fill="#0000ff" text-anchor="end">8.68111</text>
<path d="M501.65 646.83L531.15 717.47" stroke="#0000ff" stroke-width="0.6" fill="none"/>
<path d="M531.15 717.47L528.6 714.74L531 713.74Z" fill="#0000ff"/>
<text transform="translate(530.13 711.4) rotate(67.34)" font-size="5.8" fill="#0000ff" text-anchor="end">13.12813</text>
<path d="M500.19 647.27L532.61 816.23" stroke="#0000ff" stroke-width="0.6" fill="none"/>
<path d="M532.61 816.23L530.67 813.04L533.22 812.55Z" fill="#0000ff"/>
<text transform="translate(532.85 810.08) rotate(79.14)" font-size="5.8" fill="#0000ff" text-anchor="end">-13.47129</text>
<path d="M541.4 724.3L593.9 724.3" stroke="#000" stroke-width="0.6" fill="none"/>
<path d="M593.9 724.3L590.4 725.6L590.4 723Z" fill="#000"/>
<path d="M541.4 823.5L593.9 823.5" stroke="#000" stroke-width="0.6" fill="none"/>
<path d="M593.9 823.5L590.4 824.8L590.4 822.2Z" fill="#000"/>
<circle cx="355.3" cy="699.5" r="7.4" fill="#fff" stroke="#000" stroke-width="0.75"/>
<circle cx="355.3" cy="774.3" r="7.4" fill="#fff" stroke="#000" stroke-width="0.75"/>
<circle cx="355.3" cy="848.5" r="7.4" fill="#fff" stroke="#000" stroke-width="0.75"/>
<circle cx="415.1" cy="699.5" r="7.4" fill="#fff" stroke="#000" stroke-width="0.75"/>
<circle cx="415.1" cy="774.3" r="7.4" fill="#fff" stroke="#000" stroke-width="0.75"/>
<circle cx="415.1" cy="848.5" r="7.4" fill="#fff" stroke="#000" stroke-width="0.75"/>
<circle cx="474.5" cy="699.5" r="7.4" fill="#fff" stroke="#000" stroke-width="0.75"/>
<circle cx="474.5" cy="774.3" r="7.4" fill="#fff" stroke="#000" stroke-width="0.75"/>
<circle cx="474.5" cy="848.5" r="7.4" fill="#fff" stroke="#000" stroke-width="0.75"/>
<circle cx="534.0" cy="724.3" r="7.4" fill="#fff" stroke="#000" stroke-width="0.75"/>
<circle cx="534.0" cy="823.5" r="7.4" fill="#fff" stroke="#000" stroke-width="0.75"/>
<circle cx="378.8" cy="640.0" r="7.5" fill="#fff" stroke="#0000ff" stroke-width="0.8"/>
<text x="378.8" y="642.5" font-size="7" fill="#0000ff" text-anchor="middle">1</text>
<circle cx="438.7" cy="640.0" r="7.5" fill="#fff" stroke="#0000ff" stroke-width="0.8"/>
<text x="438.7" y="642.5" font-size="7" fill="#0000ff" text-anchor="middle">1</text>
<circle cx="498.8" cy="640.0" r="7.5" fill="#fff" stroke="#0000ff" stroke-width="0.8"/>
<text x="498.8" y="642.5" font-size="7" fill="#0000ff" text-anchor="middle">1</text>
<text x="316.8" y="695.2" font-size="12.9" text-anchor="middle">SSA/Ro52</text>
<text x="319.1" y="768.2" font-size="12.9" text-anchor="middle">RNP</text>
<text x="318.1" y="843" font-size="12.9" text-anchor="middle">Jo-1</text>
<text x="546.3" y="720.2" font-size="15.4">Hosp</text>
<text x="543.1" y="818.5" font-size="15.6">Non Hosp</text>
<text x="391.5" y="877.5" font-size="8.15" xml:space="preserve">Error: 3.612526   Steps: 4334</text>
</g>
</svg>
</body></html>
